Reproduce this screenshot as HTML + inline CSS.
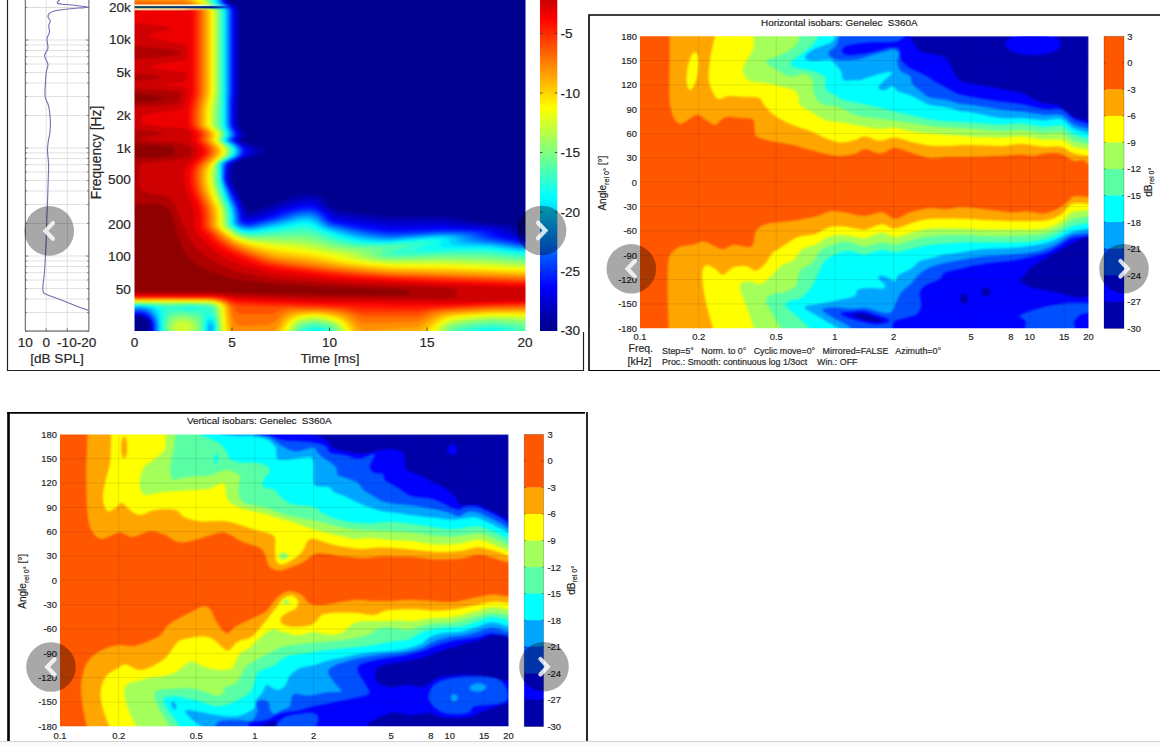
<!DOCTYPE html>
<html><head><meta charset="utf-8"><title>Measurements</title>
<style>
html,body{margin:0;padding:0;background:#fff;}
body{width:1160px;height:745px;overflow:hidden;position:relative;font-family:"Liberation Sans",sans-serif;}
svg{position:absolute;left:0;top:0;display:block;}
text{font-family:"Liberation Sans",sans-serif;fill:#262626;stroke:#262626;stroke-width:0.18px;}
</style></head><body>
<svg width="1160" height="745" viewBox="0 0 1160 745">
<defs>
<linearGradient id="nfade1" x1="0" y1="0" x2="1" y2="0"><stop offset="0" stop-color="#FFEFC8" stop-opacity="0.95"/><stop offset="0.7" stop-color="#F4FFD0" stop-opacity="0.9"/><stop offset="1" stop-color="#80FFFF" stop-opacity="0"/></linearGradient>
<linearGradient id="nfade2" x1="0" y1="0" x2="1" y2="0"><stop offset="0" stop-color="#0A4658"/><stop offset="0.8" stop-color="#00208A"/><stop offset="1" stop-color="#00008F" stop-opacity="0"/></linearGradient>
<linearGradient id="nfade3" x1="0" y1="0" x2="1" y2="0"><stop offset="0" stop-color="#FFE8C0" stop-opacity="0.95"/><stop offset="0.6" stop-color="#FFF0B0" stop-opacity="0.8"/><stop offset="1" stop-color="#FFFF80" stop-opacity="0"/></linearGradient>
<linearGradient id="jetv" x1="0" y1="0" x2="0" y2="1"><stop offset="0.0000" stop-color="#800000"/><stop offset="0.0312" stop-color="#9F0000"/><stop offset="0.0625" stop-color="#BF0000"/><stop offset="0.0938" stop-color="#DF0000"/><stop offset="0.1250" stop-color="#FF0000"/><stop offset="0.1562" stop-color="#FF2000"/><stop offset="0.1875" stop-color="#FF4000"/><stop offset="0.2188" stop-color="#FF6000"/><stop offset="0.2500" stop-color="#FF8000"/><stop offset="0.2812" stop-color="#FF9F00"/><stop offset="0.3125" stop-color="#FFBF00"/><stop offset="0.3438" stop-color="#FFDF00"/><stop offset="0.3750" stop-color="#FFFF00"/><stop offset="0.4062" stop-color="#DFFF20"/><stop offset="0.4375" stop-color="#BFFF40"/><stop offset="0.4688" stop-color="#9FFF60"/><stop offset="0.5000" stop-color="#80FF80"/><stop offset="0.5312" stop-color="#60FF9F"/><stop offset="0.5625" stop-color="#40FFBF"/><stop offset="0.5938" stop-color="#20FFDF"/><stop offset="0.6250" stop-color="#00FFFF"/><stop offset="0.6562" stop-color="#00DFFF"/><stop offset="0.6875" stop-color="#00BFFF"/><stop offset="0.7188" stop-color="#009FFF"/><stop offset="0.7500" stop-color="#0080FF"/><stop offset="0.7812" stop-color="#0060FF"/><stop offset="0.8125" stop-color="#0040FF"/><stop offset="0.8438" stop-color="#0020FF"/><stop offset="0.8750" stop-color="#0000FF"/><stop offset="0.9062" stop-color="#0000DF"/><stop offset="0.9375" stop-color="#0000BF"/><stop offset="0.9688" stop-color="#00009F"/><stop offset="1.0000" stop-color="#00008F"/></linearGradient>
<filter id="b1" x="-5%" y="-5%" width="110%" height="110%" color-interpolation-filters="sRGB"><feGaussianBlur stdDeviation="1.1"/></filter>
<filter id="b2" x="-2%" y="-2%" width="104%" height="104%" color-interpolation-filters="sRGB"><feGaussianBlur stdDeviation="0.8"/></filter>
</defs>
<clipPath id="cpW"><rect x="134.5" y="-5.0" width="391.0" height="336.0"/></clipPath>
<g clip-path="url(#cpW)"><g filter="url(#b1)">
<rect x="132.5" y="-2.0" width="395.0" height="335.0" fill="#00008F"/>
<path fill="#0000AF" d="M128.5 -6 227.6 -6 227.6 -1 228.1 1.5 229.6 2.8 236 5.2 237.6 6.5 238.5 7.8 239.4 10.2 239.6 14 239.6 91.5 238.7 102.8 238.8 124 239.6 126.5 240.4 127.8 242.2 130.3 245.7 134 246 135.2 245.5 136.5 242.5 139 242.1 140.2 243.5 141.5 246.3 142.8 256 145.5 261.9 147.8 263.8 149 264.8 150.2 264.8 151.5 263.5 153.1 259.7 155.2 254.8 156.9 243.5 160 236.5 162.8 234.5 164 233.5 165.6 232.1 172.8 232.4 180.2 233.5 183.3 237.9 191.5 244.1 204 246 209.1 247.2 211 248.5 211.6 252.2 211.3 272.2 205.4 278.6 202.8 285.7 199 291 197.2 297.2 196 306 194.8 311 194.4 314.8 194.5 318.5 195.3 322.2 197.3 323.9 199 327.2 204 331 207.3 336 209.5 342.2 210.9 358.5 213.3 389.8 216.8 398.5 216.9 436 216.3 448.5 217 482.2 222.5 509.8 225 515.4 226.5 521.9 230.2 524.8 231.3 528.5 232.1 532.2 232.4 532.2 337.8 145.2 337.8 148.5 333.9 149.5 331.5 149.9 329 149.9 326.5 149.3 324 148.1 321.5 146 319.1 143.5 317.5 141 316.7 138.5 316.5 136 316.9 133.8 317.8 131.8 319 128.5 322.8ZM128.5 334 128.5 333.2 132.6 337.8 128.5 337.8Z"/>
<path fill="#0000CF" d="M128.5 -6 226.1 -6 226.1 -1 226.5 1.5 227.5 2.8 233.5 5.7 235.8 7.8 236.8 10.2 237 14 237 91.5 236 102.7 236 122.8 236.9 126.5 240.9 132.8 241.4 135.2 240.8 136.5 238.6 139 238.2 140.2 239.4 141.5 244.8 144.6 251 147.2 253.5 148.6 255.1 150.2 255.2 151.5 254.3 152.8 252.6 154 233.4 162.8 231.7 164 230.9 165.2 229.4 171.5 229.1 177.8 229.5 180.2 230.5 182.8 241.4 204 244.8 213.5 246 215.3 247.2 215.8 249.8 215.9 256 214.7 297.2 200.3 306 198.7 312.2 198.6 316 199.5 318.5 200.9 325.9 207.8 332.2 212.2 336 213.8 341 214.9 388.5 221.1 397.2 221.3 438.5 220.7 444.8 221.2 467.2 224.3 496 226.6 502.2 227.6 506 228.6 513.9 232.8 519.8 234.8 526 236 532.2 236.3 532.2 337.8 146.9 337.8 148.9 335.2 150.1 332.8 150.8 330.2 150.9 327.8 150.6 325.2 149.9 322.8 148.5 320.3 147.2 318.8 144.8 317 142.2 315.9 139.8 315.5 137.2 315.6 134.8 316.2 132.2 317.4 128.5 320.8ZM128.5 335.2 130.8 337.8 128.5 337.8Z"/>
<path fill="#0000EF" d="M128.5 -6 224.9 -6 225 0.2 225.3 1.5 226 2.6 227.9 4 232.6 6.5 234.5 9 235 11.5 235.1 14 235.1 90.2 234.1 102.8 234.2 124 235 126.5 238.1 131.5 239.1 134 239.1 135.2 238.5 136.5 236.4 139 236 140.2 237.1 141.5 248.4 149 249.4 150.2 249.5 151.5 248.7 152.8 247.1 154 241.6 157.8 231.3 162.8 229.7 164 229 165.2 227.6 171.5 227.4 177.8 227.8 180.2 228.7 182.8 240 205.2 243.3 216.5 244.8 218.5 246 219 248.5 219.3 254.8 218.4 265.5 215.2 279.8 209.6 296 204.6 303.5 203 309.8 202.6 313.5 203.2 317.2 204.9 322.2 208.2 329.8 214.3 333.5 216.8 336 217.9 341 219 367.2 223.1 389.8 225.7 397.2 225.9 437.2 224.9 457.2 226.6 488.5 228.3 493.6 229 498.4 230.3 506 234.5 512.2 236.5 524.8 239 532.2 239.5 532.2 337.8 148.3 337.8 150 335.2 151.1 332.8 151.9 327.8 150.9 322.8 149.7 320.2 147.5 317.8 145.9 316.5 143.5 315.3 141 314.6 138.5 314.5 136 314.8 133.5 315.6 131 317 128.5 319.2ZM128.5 337.8 128.5 336.9 129.3 337.8Z"/>
<path fill="#0010FF" d="M128.5 -6 223.9 -6 223.9 0.2 224.8 2.5 226.5 4 230.9 6.5 232.9 9 233.4 11.5 233.5 14 233.5 90.2 232.6 102.8 232.7 124 233.4 126.5 236.5 131.5 237.4 134 237.3 135.2 236.8 136.5 234.6 139 234.3 140.2 235.3 141.5 239.4 144 242.5 146.5 244.7 149 245.4 150.2 245.5 151.5 244.2 154 241.7 156.5 238.5 158.5 229.7 162.8 228.2 164 227.5 165.2 226.4 171.5 226.1 177.8 226.5 180.2 227.4 182.8 238.4 205.2 240.7 212.8 241.9 219 242.8 220.2 246 221.7 248.5 221.9 252.2 221.5 270.2 216.5 282.2 211.6 292.2 208.5 301 206.6 309.8 206.1 314.8 207 319.8 209.4 323.5 212.1 329.8 218 333.5 220.3 337.6 221.5 349.8 223.4 364.8 226.4 386 229.2 392.2 229.7 438.5 228.2 481 229.8 486 230.3 490.8 231.5 497.2 235.2 500.6 236.5 505.6 237.8 523.5 241.2 532.2 241.9 532.2 337.8 149.7 337.8 151.2 335.2 152.2 332.8 152.8 327.8 152.3 324 151.4 321.5 150 319 148.5 317.2 146 315.3 143.5 314.2 141 313.6 138.5 313.4 136 313.7 133.5 314.5 131 315.8 128.5 317.7Z"/>
<path fill="#0030FF" d="M128.5 -6 222.8 -6 222.9 0.2 223.1 1.5 223.8 2.8 229.8 6.8 231.6 9 232.1 11.5 232.1 14 232.1 90.2 231.3 102.8 231.4 124 232.1 126.5 235 131.5 235.9 134 235.9 135.2 235.3 136.5 233.2 139 232.8 140.2 233.8 141.5 238.5 144.4 241 146.5 242.8 149 243.2 151.5 242.5 154 240.2 156.5 237.2 158.4 228.2 162.8 226.9 164 226.3 165.2 225.4 171.5 225.2 177.8 225.9 181.5 227.2 184.8 237.5 206.5 239.6 214 240.1 219 241.2 221.5 243.2 222.8 246 223.5 248.5 223.7 252.2 223.3 273.2 217.8 286 212.8 293.5 210.5 302.2 208.9 309.8 208.6 314.8 209.5 318.5 211.1 322.2 213.9 328.7 220.2 332.2 222.2 336 223.3 364.8 228.9 384.8 231.7 392.2 232.3 441 230.2 463.5 230.5 474.8 231.1 479.8 231.8 483.7 232.8 490.8 236.5 495 237.8 521.5 242.8 532.2 243.6 532.2 337.8 151 337.8 153.2 332.8 153.6 330.2 153.6 326.5 153.3 324 152.2 320.9 151 318.6 149.2 316.5 147.2 314.8 144.8 313.5 139.8 312.4 136 312.6 133.5 313.3 128.5 316.2Z"/>
<path fill="#0050FF" d="M128.5 -6 221.7 -6 221.8 0.2 222.8 2.8 226.2 5.2 227.2 6.5 229.3 7.8 230.3 9 230.9 11.5 230.9 14 230.9 90.2 230.3 101.5 230.3 122.8 230.9 126.5 233.7 131.5 234.6 134 234.6 135.2 234 136.5 231.8 139 231.5 140.2 232.4 141.5 237.2 144.5 239.6 146.5 241.3 149 241.7 151.5 241.1 154 238.8 156.5 236 158.3 227.2 162.6 225.7 164 225.3 165.2 224.6 171.5 224.4 177.8 224.7 180.2 226 184 236.3 206.5 238.3 214 238.9 220.2 239.3 221.5 240.3 222.8 242.4 224 246 224.9 249.8 225 253.5 224.6 275.1 219 294.8 212.3 302.2 210.9 309.8 210.7 313.5 211.4 317.2 212.9 321 215.5 327.1 221.5 329.1 222.8 332.1 224 358.5 229.8 366 231.1 384.8 233.8 392.2 234.3 401.8 234 439.8 231.7 454.8 231.7 467.2 232.2 472.4 232.8 476 233.5 484.8 237.5 490.7 239 519.8 244 526 244.7 532.2 245 532.2 337.8 152.3 337.8 153.9 334 154.4 331.5 154.5 325.2 153.1 320.2 151.7 317.8 149.8 315.4 147.2 313.5 144.8 312.3 139.8 311.2 137.2 311.3 133.5 312.1 128.5 314.7ZM214.8 7.5 213.6 7.8 217 7.8 216 7.1Z"/>
<path fill="#0070FF" d="M128.5 -6 220.7 -6 220.7 0.2 221.7 2.8 225 5.2 224.7 6.5 229.2 9 229.8 11.5 229.8 15.2 229.8 91.5 229.3 101.5 229.3 122.8 229.9 126.5 232.5 131.5 233.4 134 233.3 135.2 232.7 136.5 230.6 139 230.2 140.2 231.1 141.5 236 144.6 238.4 146.5 240 149 240.4 151.5 239.8 154 237.6 156.5 233.3 159 227.2 161.9 225.9 162.8 224.7 164 224.4 165.2 223.8 171.5 223.7 177.8 224.3 181.5 225.7 185.2 231.5 199 235.1 206.5 237.1 214 237.8 221.5 238.4 222.8 239.7 224 242.2 225.3 246 226.1 249.8 226.2 253.5 225.8 278.5 219.7 297.2 213.7 303.5 212.8 309.8 212.8 313.5 213.5 317.2 215.2 319.8 217.1 326 222.7 331 225.2 358.5 231.6 367.2 233.2 383.5 235.4 392.2 235.9 406 235.3 438.5 232.9 449.8 232.8 461 233.3 469.8 234.5 472 235.2 478.5 238.5 483.5 239.7 519.8 245.3 532.2 246.3 532.2 337.8 153.6 337.8 155 334 155.4 331.5 155.5 325.2 154.7 321.5 153.7 319 151 315 148.5 312.9 146 311.5 143.5 310.6 139.8 310 137.2 310.1 133.5 310.9 128.5 313.2ZM214.8 6.5 208.1 7.8 219.3 7.8 217.5 6.5Z"/>
<path fill="#008FFF" d="M128.5 -6 219.6 -6 219.9 1.5 220.6 2.8 223.9 5.2 223.5 5.7 221 6.3 210.4 6.5 201.2 7.8 216 8 223.5 7.8 226 8.1 228.1 9 228.7 11.5 228.8 14 228.8 91.5 228.3 101.5 228.3 122.7 228.8 126.5 231.3 131.5 232.1 134 232 135.2 231.5 136.5 229.4 139 229.1 140.2 229.9 141.5 237.1 146.5 238.8 149 239.2 151.5 238.6 154 236.3 156.5 232.1 159 226.8 161.5 224.8 162.8 223.8 164 223.5 165.2 223.1 177.8 223.5 180.9 224.8 184.7 230.5 199 234 206.5 235.9 214 236.4 221.5 236.9 222.8 237.8 224 241 226 244.8 227.1 248.5 227.4 253.5 227 281 220.6 297.2 215.7 302.2 214.9 308.5 214.8 312.2 215.3 316 216.8 318.5 218.5 324.8 223.8 329.8 226.3 357.2 233.1 369 235.2 382.2 237 391 237.4 437.2 234.1 446 233.9 456 234.3 461 234.9 464.8 235.7 466.9 236.5 472.2 239.5 477.2 240.8 496 242.9 521 246.8 532.2 247.4 532.2 337.8 154.9 337.8 156.5 331.5 156.6 327.8 156.3 324 155.5 320.2 154.4 317.8 152.9 315.2 151 313.2 148.5 311.3 146 310.1 141 308.9 134.8 309.2 132.2 309.9 128.5 311.7Z"/>
<path fill="#00AFFF" d="M128.5 -6 218.4 -6 218.7 1.5 219.4 2.8 222.8 5.2 222.2 5.5 219.8 6 205.6 6.5 192.8 7.8 222.2 8.1 224.8 8.3 227 9 227.6 11.5 227.7 14 227.7 91.5 227.3 101.5 227.3 122.8 227.8 126.5 230.1 131.5 230.9 134 230.8 135.2 230.2 136.5 228.2 139 227.9 140.2 228.7 141.5 235.9 146.5 237.6 149 238 151.5 237.4 154 235.1 156.5 225.7 161.5 223.8 162.8 222.9 164 222.6 165.2 222.4 177.8 223 181.5 224.2 185.2 229.4 199 232.9 206.5 234.7 214 235.2 221.5 236 223.7 237.2 225 241 227.2 244.8 228.2 248.5 228.5 253.5 228.2 281 222.2 298.5 217.4 303.5 216.7 308.5 216.8 312.2 217.5 314.8 218.4 317.2 219.9 324.1 225.2 329.8 227.7 356 234.7 368.5 236.9 381 238.4 391 238.8 436 235.2 450.3 235.2 458.8 236.5 461.7 237.8 466 240.7 471 242.1 493.5 244 521 248 532.2 248.6 532.2 337.8 156.4 337.8 157.3 334 157.7 330.2 157.2 322.8 156.3 319 155.3 316.5 152.2 312.4 149.8 310.4 147.2 309.1 142.2 307.9 138.5 307.7 134.8 308 131 308.9 128.5 310Z"/>
<path fill="#00CFFF" d="M128.5 -6 217.2 -6 217.5 1.5 218.2 2.8 221.6 5.2 218.5 5.8 200 6.5 188.5 7.3 128.5 7.5ZM128.5 9 128.5 7.8 201 7.9 222.2 8.3 225.9 9 226.5 11.5 226.6 14 226.3 122.8 226.8 126.5 229.7 134 229.6 135.2 229 136.5 227.1 139 226.8 140.2 227.6 141.5 234.7 146.5 236.4 149 236.8 151.5 236.2 154 233.9 156.5 224.6 161.5 222.9 162.8 222 164 221.8 165.2 221.8 177.8 222.3 181.5 223.8 186.5 228.3 199 231.8 206.5 233.5 214 234.2 222.8 234.7 224 236 225.4 239.8 227.8 243.5 229 247.2 229.5 252.2 229.4 258.5 228.5 282.2 223.5 298.5 219.3 302.2 218.8 307.2 218.7 311 219.3 313.8 220.2 316 221.4 323.1 226.5 328.5 228.9 353.5 235.9 367.2 238.5 379.8 239.8 389.8 240 432.4 236.5 439.8 236.2 446 236.3 449.8 236.8 454 237.8 456.1 239 458.3 241.5 459.8 242.4 464.8 243.6 491 245.1 517.2 248.9 524.8 249.6 532.2 249.8 532.2 337.8 157.9 337.8 158.8 330.2 158.3 321.5 157.4 317.8 156.4 315.2 153.5 311.3 149.8 308.6 147.5 307.8 143.5 307.1 136 307 131 307.6 128.5 308.3ZM209.8 324.7 208.9 326.5 208.7 329 209.8 331.7 211 331.9 212.3 330.2 212.3 326.5 211 324.5Z"/>
<path fill="#00EFFF" d="M128.5 -6 215.7 -6 215.8 -1 216.1 1.5 216.9 2.8 220.4 5.2 211 6.1 187.2 6.8 128.5 6.9ZM128.5 9 128.5 7.8 198.5 7.9 219.8 8.4 224.7 9 225.4 11.5 225.4 14 225.2 122.8 225.7 126.5 228.5 134 228.4 135.2 226 139 225.7 140.2 226.5 141.5 233.5 146.5 235.2 149 235.6 151.5 235 154 232.7 156.5 223.6 161.5 222 162.8 221.1 164 220.9 165.2 221.1 177.8 221.5 181.5 223 186.5 226.8 197.8 230.3 205.2 231 207.8 232.5 215.2 232.9 222.8 233.5 224.2 235.7 226.5 239.8 228.9 243.5 230.1 247.2 230.6 252.2 230.6 258.5 229.8 271 227.2 284.8 224.8 298.5 221.4 303.5 220.8 307.2 220.9 310.9 221.5 313.5 222.5 321.9 227.8 328.5 230.5 349.8 237 357.2 238.7 364.8 239.9 376 241 388.5 241.2 430.5 237.8 442.2 237.6 444.8 237.9 448.5 239 449.8 240.2 450.5 242.8 451.4 244 455.4 245.2 463.5 245.8 488.5 246.3 516 250.2 524.8 250.9 532.2 251.2 532.2 337.8 159.6 337.8 160.1 329 159.3 319 157.8 314 156.4 311.5 154.8 309.6 151.6 307.8 144.8 306.4 136 306.2 128.5 307.2ZM209.8 321.2 208.5 322.2 207.3 325.2 207.1 330.2 207.7 332.8 208.5 334.3 209.8 335.3 211 335.2 212.2 334.2 213.5 331.8 214 329 213.9 326.5 213.5 324.7 212.2 322.2 211 321.2Z"/>
<path fill="#10FFEF" d="M128.5 -6 214.2 -6 214.2 -1 214.6 1.5 215.5 2.8 219.1 5.2 209.8 6 193.5 6.4 128.5 6.5ZM128.5 9 128.5 7.9 196 8 218.5 8.5 223.5 9 224.1 11.5 224.2 14 224.2 91.5 223.9 122.8 224.4 126.5 227.2 134 227.2 135.2 224.9 139 224.7 140.2 225.4 141.5 232.2 146.5 233.9 149 234.3 151.5 233.8 154 231.5 156.5 222.6 161.5 221.1 162.8 220.3 164 220 165.2 220.2 177.8 220.4 180.2 221.3 184 225.2 196.5 226.6 200.2 229.1 205.2 229.8 207.8 231.2 215.2 231.6 222.8 232.2 224.4 234.1 226.5 238.5 229.4 242.2 230.9 247.2 231.8 252.2 231.9 259.8 231.1 271 228.9 284.8 226.8 299.8 223.7 303.5 223.3 307.2 223.5 312.2 224.7 323.5 230.6 339.8 236.3 351 239.4 362.2 241.4 373.5 242.3 387.2 242.4 422.2 239.6 436 239.2 441.4 240.2 442.1 241.5 441.6 242.8 439.5 245.2 439.3 246.5 443.5 247.6 452.2 247.9 486 247.9 517.2 251.9 532.2 252.7 532.2 337.8 497.4 337.8 497.4 332.8 496.6 331.5 493.5 330.8 489.8 330.5 483.4 331.5 482.6 332.8 482.6 337.8 321.3 337.8 321.3 332.8 320.9 331.5 318.5 330.7 316 330.3 313.5 330.6 311.1 331.5 310.7 332.8 310.7 337.8 211.7 337.8 213.5 335.4 214.6 332.8 215 330.2 215 326.5 214.6 324 213.5 321.1 212.2 319.3 211 318.4 209.8 318.1 208.5 318.7 207.2 320.3 206.3 322.8 205.7 326.5 206 332.9 206.7 335.2 208.1 337.8 161.5 337.8 160.7 316.5 159.8 312.2 158 309 155.9 307.8 153.5 307.1 144.8 305.7 137.2 305.5 128.5 306.2Z"/>
<path fill="#30FFCF" d="M128.5 -6 212.7 -6 212.7 -1 213.1 1.5 214 2.8 217.7 5.2 208.5 6 192.2 6.3 128.5 6.4ZM128.5 9 128.5 8 193.5 8 212.2 8.4 222.1 9 222.8 11.5 222.9 14 222.9 92.8 222.4 122.8 222.9 126.5 225.2 131.5 226 134 226 135.2 223.8 139 223.6 140.2 224.3 141.5 229.5 145.2 232 147.8 232.6 149 233 151.5 232.5 154 231.6 155.2 228.4 157.8 221.7 161.5 220.2 162.8 219.4 164 219.1 166.5 219.3 179 220.2 184 223.9 196.5 225.4 200.2 227.8 205.2 228.6 207.8 229.8 214 230.1 221.5 230.6 224 231.3 225.2 233.5 227.4 237.2 229.9 242.2 232.1 247.2 233 252.3 233.2 261 232.5 298.5 227 306 226.8 312.2 228.2 324.8 233.4 338.5 238.5 348.5 241.1 357.6 242.8 368.5 243.6 386 243.7 415.8 241.5 422.2 241.3 427.7 241.5 429.9 242.8 428.4 244 425.8 245.2 416.2 249 415 250.2 418.5 251 426 251.2 463.5 250 483.5 250.1 491 250.6 517.2 253.8 532.2 254.6 532.2 337.8 511.1 337.8 511.1 332.8 510.8 331.5 509.8 331 508.2 330.2 501.7 329 494.8 328.1 489.8 327.9 484.8 328.2 476 329.5 471.9 330.2 468.7 331.5 468.2 332.8 468.2 337.8 328.1 337.8 327.9 331.5 326.2 330.2 322.5 329 316 328 309.8 328.9 306 330.1 304.8 331 304.2 331.5 304 332.8 304 337.8 214.1 337.8 215.9 331.5 216.1 327.8 215.7 324 214.6 320.2 212.2 316.2 209.8 314.2 208.5 314 207.3 314.8 206 317.2 204.7 322.7 204.3 330.2 205.1 337.8 163.7 337.8 162.9 330.2 162.7 324 163.9 309 161.9 307.8 147.7 305.2 138.5 304.8 128.5 305.4ZM182.2 307.7 181.6 307.8 185.9 309 191 309.2 196.9 309 198.3 307.8 189.8 307.1Z"/>
<path fill="#50FFAF" d="M128.5 -6 211.1 -6 211.1 -1 211.5 1.5 212.4 2.8 216.3 5.2 207.2 5.9 191 6.3 128.5 6.3ZM128.5 9 128.5 8 193.5 8.1 211 8.4 220.7 9 221.4 11.5 221.5 14 221.5 90.2 220.5 111.5 220.6 124 221.2 126.5 223.9 131.5 224.8 134 224.7 135.2 222.7 139 222.5 140.2 223.2 141.5 228.2 145.2 230.6 147.8 231.3 149 231.7 151.5 231.1 154 230.3 155.2 227.2 157.8 220.7 161.5 219.4 162.8 218.6 164 218.1 166.5 218.1 179 218.9 184 221.8 194 223.5 199 226.5 205.2 227.3 207.8 228.5 214 228.8 221.5 229.2 224 229.8 225.2 232.3 227.8 236 230.4 239.8 232.4 243.5 233.6 248.5 234.4 258.5 234.4 296 230.8 304.8 230.6 309.8 231.3 314.8 232.6 329.8 238.4 337.2 240.8 344.8 242.8 352.2 244.1 366 245.2 388.5 245.2 404.8 244.7 409.1 245.2 407 246.5 395.4 250.3 393 251.5 392.1 252.8 394 254 396 254.3 402.2 254.6 411 254.4 448.5 252.6 474.8 252.6 488.5 253.1 518.5 256.3 532.2 257 532.2 337.8 520.1 337.8 519.9 331.5 518.4 330.2 513.5 328.3 504.8 326.6 491 325.5 484.8 325.8 473.5 327.2 466 328.6 460.2 330.2 457.9 331.5 457.6 332.8 457.6 337.8 332.5 337.8 332.4 331.5 331 330 328.5 328.6 324.8 327.3 319.8 326.1 316 325.8 312.2 326 308.5 326.7 304.8 327.9 302.2 329.1 300.8 330.3 300 331.5 299.9 337.8 215.6 337.8 216.6 334 217.1 330.2 217 326.5 216.5 322.8 215.5 319 212.9 312.8 211.8 309 210.9 307.8 209.8 307.3 206 306.5 191 305.4 184.8 305.5 168.5 306.6 144.8 304.4 137.2 304.2 128.5 304.7ZM172.1 311.5 178.5 311.1 191 311.8 198.2 312.8 201.1 314 202.2 315.4 203 319 202.8 330.2 202.1 337.8 166.6 337.8 165 332.8 164.4 329 164.4 324 164.9 320.2 166 316.6 167.2 314.4 169.8 312.3Z"/>
<path fill="#70FF8F" d="M128.5 -6 209.6 -6 209.6 -1 210 1.5 210.9 2.8 214.8 5.2 206 5.8 191 6.2 128.5 6.2ZM128.5 9 128.5 8.1 192.3 8.1 219.3 9 219.9 11.5 220 14 220 91.5 218.6 111.5 218.5 122.8 219.4 126.5 222.6 131.5 223.5 134 223.5 135.2 221.6 139 221.4 140.2 222.1 141.5 226.9 145.2 229.3 147.8 229.9 149 230.3 151.5 229.8 154 229 155.2 225.9 157.8 219.8 161.5 217.7 164 216.9 169 216.8 179 217.6 184 220 192.8 222.1 199 224.8 204.3 225.9 207.8 227.2 215.2 227.7 224 229.3 226.5 232.2 229 236 231.7 239.8 233.6 243.5 234.8 248.5 235.7 257.2 236.1 296 234.4 304.8 234.6 313.5 236.1 332.2 242.4 344.6 245.3 357.2 246.7 380.5 247.8 383 249 380.9 252.7 381.2 254 383.5 255.6 386.7 256.5 389.8 256.9 401 257 441 255.2 459.8 255.3 488.5 256.1 519.8 258.9 532.2 259.4 532.2 329.2 527.2 328.6 517.2 325.6 511 324.4 498.5 323.3 488.5 323.1 477.5 324 469.8 325 461 326.7 454.8 328.6 451.6 330.2 450.6 331.5 450.4 337.8 335.6 337.8 335.5 331.5 334.8 330.2 332.2 328.1 329.8 326.6 326 325.2 320.1 324 314.8 323.6 310.1 324 306 324.8 302.2 326.2 300 327.8 297.6 330.2 297 331.5 297 337.8 217 337.8 218.1 330.2 217.9 325.2 217.4 321.5 214.4 309 213.8 307.8 211 306.1 206 305.1 192.2 304.4 167.2 305.1 144.8 303.8 128.5 304ZM176.2 314 182.2 313.6 189.8 314.3 196 315.9 198.8 317.8 200.4 320.2 201 322.6 201.1 329 200.8 331.5 199.8 334.7 197.3 337.8 170.5 337.8 169.8 337 167.8 334 166.5 330.2 166.2 325.2 166.9 321.5 168.5 318.3 170.1 316.5 172.2 315.2Z"/>
<path fill="#8FFF70" d="M128.5 -6 208 -6 208 -1 208.4 1.5 209.3 2.8 213.3 5.2 189.8 6.1 128.5 6.2ZM128.5 9 128.5 8.2 192.2 8.2 217.8 9 218.4 11.5 218.5 14 218.5 91.5 216.6 111.5 216.5 122.8 217 125.2 217.6 126.5 221.2 131.5 222.3 134 222.3 135.2 220.5 139 220.3 140.2 221 141.5 225.6 145.2 228 147.8 228.6 149 228.9 151.5 228.4 154 227.7 155.2 224.7 157.8 218.9 161.5 216.9 164 216.1 166.5 215.5 170.2 215.3 179 216.4 185.2 218.5 192.8 220.7 199 223.8 205.2 224.5 207.8 225.9 215.2 226.3 224 227.7 226.5 231 229.4 236 232.9 239.8 234.8 244.8 236.3 249.8 237.2 259.8 237.8 297.2 237.9 304.8 238.5 311 239.4 316 240.6 329.8 244.7 337.2 246.4 344.8 247.6 362.2 249.3 368.1 250.2 370.2 251.5 371.6 254 373 255.2 375.5 256.5 380 257.8 386 258.6 396 259 436 257.8 457.2 258 488.5 258.8 521 261.4 532.2 261.8 532.2 323.4 526 323.1 509.8 321.4 493.5 320.8 479.4 321.5 467.9 322.8 454.8 325.5 451.6 326.5 449.8 327.7 447.2 330 446.4 331.5 446.3 337.8 338.3 337.8 338.2 331.5 337.6 330.2 334.8 327.2 332.2 325.3 329.6 324 324.8 322.9 318.5 321.9 313.5 321.7 304.6 322.8 301.1 324 299.3 325.2 296 328.9 294.8 331.1 294.5 337.8 218.4 337.8 219.1 331.5 219.1 326.5 216.3 309 215.9 307.8 214.8 306.6 212.2 305.1 207.2 304 197.2 303.7 166 304 142.2 303.2 128.5 303.4ZM178.1 316.5 183.5 316.2 188.5 316.8 192.2 317.9 196 320 198.1 322.8 198.8 325.2 198.7 329 197.1 332.8 195.9 334 193.5 335.6 187.3 337.8 178 337.8 174.8 336.6 172.2 335.1 170 332.8 168.8 330.2 168.3 327.8 168.7 324 169.8 321.4 171.9 319 174.8 317.4Z"/>
<path fill="#AFFF50" d="M128.5 -6 206.4 -6 206.4 -1 206.8 1.5 207.7 2.8 211.8 5.2 189.8 6 128.5 6.1ZM128.5 9 128.5 8.2 191 8.3 216.3 9 216.9 11.5 217 14 217 91.5 216.8 95.2 215.7 101.5 214.7 111.5 214.5 122.8 215 125.2 215.7 126.5 219.8 131.5 221 134 221 135.2 219.3 139 219.2 140.2 219.8 141.5 224.3 145.2 226.6 147.8 227.2 149 227.5 151.5 227.1 154 226.3 155.2 223.4 157.8 218.5 161 216 164 215 166.5 214.2 170.2 213.9 179 214.9 185.2 217 192.8 219.3 199 222.4 205.2 223.1 207.8 224.3 214 224.7 222.8 225.2 225.2 227.2 227.8 230.2 230.2 234.8 233.5 238.5 235.5 242.2 236.9 247.2 238.1 257.2 239.4 294.8 241 307.2 242.3 314.8 243.8 331 247.9 355 251.5 358.9 252.8 365.8 256.5 369.4 257.8 375 259 382.2 260 393.5 260.7 438.5 260 468.5 260.6 488.5 261.2 521 263.6 532.2 263.9 532.2 321 524.8 320.7 508.5 319.4 492.2 319.1 473.8 320.2 462.2 321.7 452.2 323.9 448.8 325.2 446.9 326.5 443.6 330.2 443 331.5 442.9 337.8 340.9 337.8 340.8 331.5 340.3 330.2 337.2 326.7 334.2 324 331 322.7 324.8 321.2 318.5 320.2 313.5 320 307.2 320.7 302.2 321.6 298.9 322.8 297.3 324 292.7 330.2 292.3 331.5 292.2 337.8 219.8 337.8 220.3 331.5 220.2 326.5 218 309 217.7 307.8 216.6 306.5 215.1 305.2 212.5 304 207.2 303.4 194.8 303.1 166 303.3 142.2 302.8 128.5 302.9ZM179.7 319 182.2 318.8 186 319.1 189.8 320.2 192.2 321.5 193.7 322.8 195.3 325.2 195.5 327.8 194.5 330.2 193.5 331.5 191 333.2 188.5 334.3 184.8 335.1 181 335.1 178.5 334.8 176 334 173.9 332.8 172.2 331 171.3 329 171 326.5 171.6 324 172.3 322.8 174.8 320.6 177.2 319.5Z"/>
<path fill="#CFFF30" d="M128.5 -6 204.8 -6 204.8 -1 205.1 1.5 206 2.8 210.1 5.2 188.5 5.9 128.5 6ZM128.5 9 128.5 8.3 191 8.3 214.8 9 215.4 11.5 215.5 14 215.5 91.5 215.2 95.2 213.9 101.5 212.7 111.5 212.6 122.8 213.1 125.2 213.8 126.5 218.3 131.5 219.7 134 219.8 135.2 219.4 136.5 218.2 139 218.1 140.2 218.7 141.5 222.9 145.2 225.2 147.8 225.8 149 226.1 151.5 225.7 154 224.9 155.2 217 161.5 214.4 165.2 213.4 167.8 212.6 171.5 212.4 179 213.4 185.2 215.5 192.8 217.9 199 221 205.2 221.7 207.8 223.1 215.2 223.2 222.7 223.6 225.2 225.4 227.8 229.8 231.3 234.8 234.9 237.9 236.5 242.2 238.1 248.5 239.7 254.8 240.7 267.2 242 294.8 244.1 307.2 245.7 326 249.6 344.9 252.8 349.5 254 359.3 257.8 363.5 258.9 377.2 261.1 393.5 262.3 439.8 262.1 474.7 263 491 263.6 521 265.6 532.2 266 532.2 319 508.5 317.8 489.8 317.6 468.5 319.2 454.7 321.2 448.5 323.1 446 324.4 443.3 326.5 440.3 330.2 439.8 331.5 439.7 337.8 343.5 337.8 343.4 331.5 342.9 330.2 339.8 326.3 337.2 323.8 333.5 321.9 327.2 320.2 318.5 318.7 312.2 318.6 302.2 320 298.5 321.1 295.6 322.8 293.5 325.3 290.4 330.2 290 331.5 289.9 337.8 221.4 337.8 221.5 327.8 219.7 309 219.4 307.8 218.5 306.5 215.2 304 211 303 204.8 302.7 128.5 302.4ZM177.8 322.8 179.8 322.1 182.2 321.8 184.8 322 187.2 322.8 189.2 324 190.3 325.2 190.8 326.5 190.7 327.8 190.1 329 188.9 330.2 186 331.7 182.2 332.2 178.5 331.5 176 330 174.7 327.8 175.1 325.2 176 323.9Z"/>
<path fill="#EFFF10" d="M128.5 -6 202.7 -6 202.7 -1 203.2 1.5 204.2 2.8 208.3 5.2 188.5 5.9 128.5 5.9ZM128.5 9 128.5 8.4 191 8.4 213.2 9 213.8 11.5 213.9 14 213.9 91.5 213.6 95.2 212.1 101.5 210.7 111.5 210.5 122.8 211.1 125.2 211.9 126.5 216.8 131.5 218.3 134 218.4 135.2 216.9 139 216.8 140.2 217.4 141.5 223.7 147.8 224.3 149 224.7 151.5 224.2 154 223.5 155.2 216 161.5 214 164 212.6 166.5 211.1 171.5 210.9 179 211.8 185.2 213.9 192.8 216.4 199 219.5 205.2 220.3 207.8 221.6 215.2 222 225.2 223.5 227.8 228.5 231.9 233.5 235.5 237.2 237.5 243.5 239.8 249.8 241.4 269.8 244.5 294.8 247.1 308.5 249.2 335.2 254 353.5 259.2 359.8 260.5 369.8 261.9 391 263.8 447.2 264.3 486 265.6 519.8 267.6 532.2 268 532.2 317 508.5 316.2 489.8 316.1 467.2 317.8 452.2 319.8 446 322.1 442.9 324 440 326.5 437 330.2 436.4 331.5 436.3 337.8 346.1 337.8 346 331.5 345.5 330.2 341.7 325.2 338.5 322.5 333.5 320.2 327.2 318.6 318.5 317.1 312.2 317.1 304.8 318 299.8 319 296 320.5 293.5 322.2 291.8 324 288.1 330.2 287.7 331.5 287.6 337.8 223.1 337.8 223.1 329 221.4 309 221.1 307.8 220.3 306.5 217.2 303.9 212.2 302.5 206 302.1 128.5 301.8Z"/>
<path fill="#FFEF00" d="M128.5 -6 199.8 -6 199.8 -1 200.6 1.5 202 2.8 206.4 5.2 188.5 5.8 128.5 5.8ZM128.5 9 128.5 8.4 189.8 8.5 211.4 9 212.1 11.5 212.2 14 212.2 91.5 211.8 95.2 210.1 101.5 208.7 111.5 208.5 122.8 209 125.2 209.8 126.5 216.1 132.8 216.8 135.2 215.5 139 215.4 140.2 217.1 142.8 219.9 145.2 222.1 147.8 222.7 149 223 151.5 222.6 154 221.8 155.2 214.8 161.5 211.1 166.5 210.1 169 209.3 172.8 209.3 180.2 210.4 186.5 212.2 192.8 214.2 197.8 217.3 204 218.6 207.8 219.8 214 220.1 224 220.7 226.5 222.8 229 228.5 233.6 233.5 237 238.5 239.4 246 242 252.2 243.6 272.2 247.4 298.5 250.8 319.8 254.2 329.8 256.2 345.5 260.2 361.1 262.8 391 265.6 444.8 266.3 532.2 270 532.2 315 508.5 314.6 489.8 314.7 464.7 316.5 451 318.2 447.2 319.2 443.5 321 439.8 323.5 436.5 326.5 433.2 330.2 432.5 331.5 432.4 337.8 348.8 337.8 348.8 331.5 348.3 330.2 343.6 324 340.3 321.5 334.8 319 327.2 317 318.5 315.6 312.2 315.5 304.8 316.4 299.8 317.4 295.2 319 291.4 321.5 289.2 324 285.6 330.2 285.2 331.5 285.2 337.8 224.9 337.8 224.9 330.2 222.8 307.8 221 305.2 219.5 304 217.2 303.1 212.2 301.9 206 301.4 128.5 301.3Z"/>
<path fill="#FFCF00" d="M128.5 -6 196 -6 196 -1 196.2 0.2 196.9 1.5 198.9 2.8 204.4 5.2 187.2 5.7 128.5 5.7ZM128.5 9 128.5 8.5 189.8 8.5 209.5 9 210.1 11.5 210.2 14 210.2 91.5 209.8 95.2 208 101.5 206.5 111.5 206.3 122.8 206.9 125.2 207.7 126.5 213.1 131.5 214.8 134 215 135.2 213.8 139 213.7 140.2 215.4 142.8 220.2 147.8 220.8 149 221.1 151.5 220.6 154 219.9 155.2 212.2 162.8 210.1 165.2 208.7 167.8 207.3 172.8 207.3 180.2 208.4 186.5 210.2 192.8 212.8 199 215.9 205.2 216.7 207.8 218 215.2 218.2 224 218.8 226.5 221 229.3 227.2 234.4 233.5 238.6 242.2 242.4 252.2 245.6 267.2 249.1 277.2 251.1 314.8 256.3 338 261.5 352.2 263.7 391 267.5 443.5 268.4 532.2 272 532.2 313.2 507.2 313 488.5 313.3 459.8 315.3 448.5 316.8 443.5 318.4 439.8 320.5 435.1 324 428.4 330.3 427.7 331.5 427.5 337.8 351.8 337.8 351.8 331.5 351.3 330.2 346.7 324 344 321.5 341 319.6 334.8 317.1 326.6 315.2 317.2 314.1 309.8 314.3 302.2 315.1 297.2 316.3 293.5 317.8 289.7 320.2 286.4 324 282.9 330.2 282.5 331.5 282.5 337.8 227 337.8 226.8 330.2 224.5 307.8 222.9 305.2 221.5 304 218.7 302.8 212.2 301.2 206 300.7 128.5 300.6Z"/>
<path fill="#FFAF00" d="M128.5 -6 192 -6 192.1 -1 192.3 0.2 193.1 1.5 195.3 2.8 202.2 5.2 187.2 5.6 128.5 5.7ZM128.5 9 128.5 8.5 189.8 8.6 207.3 9 207.9 11.5 208 14 208 91.5 207.6 95.2 205.8 101.5 204.3 111.5 204.1 122.8 204.7 125.2 205.5 126.5 210.9 131.5 212.7 134 212.9 135.2 211.7 139 211.7 140.2 212.3 141.5 218.1 147.8 218.6 149 218.9 151.5 218.5 154 217.8 155.2 209.1 164 206.5 167.8 205.2 172.8 205.1 180.2 206.2 186.5 208 192.8 210.6 199 213.2 204 214.5 207.8 215.9 215.2 216 224 216.6 226.5 219.8 230.2 227.2 236.3 234.8 240.9 243.5 244.8 252.2 247.7 271 252.9 278.5 254.4 311 258.8 330.4 262.8 344.8 264.9 374.8 268.1 391 269.4 443.5 270.6 532.3 274 532.2 311.5 487.2 311.9 456 314 446 315.4 441 317 437 319 431.7 322.8 422.3 330.2 421.3 331.5 421.1 337.8 355.5 337.8 355.4 331.5 354.1 329 348.5 322.1 346 320 342.2 317.8 335.1 315.2 324.8 313.4 314.8 312.7 304.8 313.2 299.8 313.7 294.8 315 291 316.6 287.2 319.2 284.1 322.8 279.8 330.2 279.4 331.5 279.4 337.8 229.3 337.8 229.2 330.2 226.3 307.8 224.8 305.2 223.4 304 219.8 302.3 213.5 300.6 207.2 300.1 128.5 300Z"/>
<path fill="#FF8F00" d="M128.5 -6 186.5 -6 186.6 -1 187.3 0.2 188.8 1.5 191.6 2.8 199.5 5.2 187.2 5.5 128.5 5.6ZM128.5 9 128.5 8.6 188.5 8.6 205 9 205.7 11.5 205.7 14 205.7 91.5 205.4 95.2 203.6 101.5 202 111.5 201.8 122.8 202.4 125.2 203.2 126.5 208.7 131.5 210.4 134 210.6 135.2 209.4 139 209.4 140.2 210.1 141.5 213.8 145.2 215.8 147.8 216.3 149 216.7 151.5 216.2 154 215.6 155.2 206.8 164 204.3 167.8 202.9 172.8 202.9 180.2 203.9 186.5 205.7 192.8 208.4 199 211 204.1 212.3 207.8 213.6 215.2 213.8 224 214.3 226.5 217.4 230.2 226 237.5 233.5 242.2 243.5 246.8 251 249.6 271 255.9 277.2 257.2 309.8 261.8 336 266 364.8 269.2 391 271.4 444.8 272.9 532.2 275.9 532.2 309.8 488.5 310.5 448.5 313 441 314.3 436 316.1 430.8 319 421 325.5 416 327.4 378.5 329.8 366 331 363.5 330.7 359.8 329 349.5 319 344.8 316.1 339.8 314.3 331 312.7 319.8 311.6 311 311.4 299.8 311.9 294.8 312.7 290.2 314 287.2 315.5 283.5 318.6 280.2 322.8 275.4 330.2 274.9 331.5 274.8 337.8 232.7 337.8 232.6 331.5 230.3 321.5 228.2 307.8 227.7 306.5 225.5 304 221 301.8 214.8 300 207.2 299.3 128.5 299.3Z"/>
<path fill="#FF7000" d="M128.5 2.8 128.5 1.6 132.2 1.6 151 1.7 184.8 2.8 189.8 3.4 196.6 5.2 128.5 5.5ZM128.5 9 128.5 8.7 188.5 8.7 202.7 9 203.3 11.5 203.4 14 203.4 91.5 203 95.2 201.2 101.5 199.6 111.5 199.4 122.8 200 125.2 200.8 126.5 206.3 131.5 208 134 208.3 135.2 207.1 139 207.1 140.2 207.7 141.5 211.4 145.2 213.4 147.8 214 149 214.3 151.5 213.9 154 213.2 155.2 204.4 164 201.9 167.8 200.5 172.8 200.5 180.2 201.6 186.5 203.4 192.8 205.4 197.8 208.6 204 209.9 207.8 211.2 215.2 211.4 224 211.9 226.5 215 230.2 224.8 238.8 232.2 243.6 242.2 248.4 249.8 251.4 269.8 258.3 277.2 259.8 332.2 267.7 362.2 271 389.8 273.2 532.2 277.9 532.2 308.1 488.5 309.1 448.5 311.3 439.8 312.3 434.8 313.3 431 314.8 421 320 416 321.5 411 321.9 367.2 322.9 363.5 322.7 361 322.2 358.5 320.9 354 317.8 348.5 314.6 344.8 313.3 339.8 312.2 331 311 318.5 310.1 296.5 310.2 289.8 311.1 284.8 312.8 281.3 315.2 274.8 321.9 271 324.1 266 324.9 241 326.1 238.5 325.8 237.2 325.2 236 324.2 234.8 322.5 233.5 319.8 232.2 315.8 230.5 307.8 228.9 305.2 227.6 304 224.8 302.3 221 300.8 217.2 299.7 212.2 298.9 206 298.7 128.5 298.7Z"/>
<path fill="#FF5000" d="M128.5 4 128.5 3.2 183.5 3.9 188.5 4.2 193.5 5.2 128.5 5.4ZM128.5 9 128.5 8.7 200.2 9 200.8 11.5 200.9 14 200.9 91.5 200.5 95.2 198.7 101.5 197.1 111.5 196.9 122.8 197.5 125.2 198.3 126.5 203.8 131.5 205.5 134 205.7 135.2 204.6 139 204.6 140.2 205.2 141.5 208.9 145.2 210.9 147.8 211.5 149 211.8 151.5 211.4 154 210.7 155.2 201.9 164 199.4 167.8 198 172.8 198 180.2 199.1 186.5 200.9 192.8 202.9 197.8 206.1 204 207.4 207.8 208.7 215.2 208.9 224 209.4 226.5 210.1 227.8 212.4 230.2 219.8 237.3 223.4 240.3 231 245.2 239.8 249.5 248.5 253.2 268.5 260.4 274.8 261.7 297.2 265.2 329.8 269.4 359.8 272.6 389.8 274.9 532.2 279.7 532.2 306.5 489.8 307.5 443.5 310 432.1 311.5 427.6 312.8 421 315.5 414.8 316.5 366 316.5 359.8 315.9 349.8 312.2 342.2 310.5 331 309.2 314.8 308.4 292.2 308.3 284.8 308.7 281 309.5 273.5 313.2 269.8 314 241 313.8 238.5 313.2 237.2 312.5 236 311.3 233.2 306.5 228.1 302.8 222.2 300.1 216 298.7 206 298.1 128.5 298.1Z"/>
<path fill="#FF3000" d="M128.5 5.2 128.5 4.3 184.8 4.8 189.9 5.2ZM128.5 9 197.5 9 198 10.2 198.2 14 198.2 91.5 197.9 95.2 196.1 101.5 194.5 111.5 194.3 122.8 194.9 125.2 195.7 126.5 201.2 131.5 202.9 134 203.1 135.2 202 139 202 140.2 202.6 141.5 206.3 145.2 208.3 147.8 208.9 149 209.2 151.5 208.8 154 208.1 155.2 199.3 164 196.8 167.8 195.4 172.8 195.4 180.2 196.5 186.5 198.3 192.8 200.9 199 203.5 204 204.8 207.8 206.1 215.2 206.3 224 206.7 226.5 208.3 229 217.2 238 221.4 241.5 228.9 246.5 237.2 250.7 246 254.4 266 262 273.5 263.6 289.8 266.2 331 271.6 358.5 274.4 389.8 276.6 532.2 281.5 532.2 305 489.8 306 441 308.5 431 309.5 419.8 312 414.8 312.6 366 312.4 359.8 311.9 346 308.8 331 307.4 289.8 306.3 271 306.8 239.8 305.4 234.8 304.4 226 300.2 222.3 299 213.5 297.7 128.5 297.5Z"/>
<path fill="#FF1000" d="M128.5 9 192.2 8.9 194.8 9 195.3 10.2 195.6 14 195.5 92.8 195.2 95.2 193.4 101.5 191.8 111.5 191.6 122.8 192.2 125.2 192.9 126.5 198.5 131.5 200.2 134 200.4 135.2 199.2 139 199.2 140.2 199.8 141.5 205.6 147.8 206.2 149 206.5 151.5 206.1 154 205.4 155.2 196.6 164 194.1 167.8 192.7 172.8 192.7 180.2 193.8 186.5 195.6 192.8 198.2 199 201 204.4 202.1 207.8 203.4 215.2 203.6 225.2 204.2 227.7 206 230.1 210.2 234 214.8 239.2 219.8 243.3 227.2 248.4 234.8 252.2 258.5 262 263.5 263.7 271 265.4 283.5 267.5 329.8 273.6 354.8 276 389.8 278.3 442.2 280.4 532.2 283.3 532.2 303.5 491 304.5 436 306.9 416 308.7 367.2 308.3 361 308.1 347.6 306.5 334.8 305.7 287.2 304.2 272.2 304.2 239.8 302.8 234.8 302 226.4 299 223.5 298.3 213.5 297.1 128.5 296.9Z"/>
<path fill="#EF0000" d="M128.5 9 191.4 9 192 10.2 192.3 12.8 192.4 27.8 192.3 92.8 192 95.2 190.2 101.5 188.8 110.2 188.3 115.2 188.4 122.8 188.9 125.2 189.6 126.5 195.1 131.5 197 134 197.2 135.2 196 139 196 140.2 196.5 141.5 202.3 147.8 202.9 149 203.3 151.5 202.8 154 202.1 155.2 193.3 164 190.9 167.8 189.5 172.8 189.7 181.5 190.6 186.5 192.8 194 198.1 205.2 198.9 207.8 200.2 215.2 200.4 226.5 201 229 202.2 230.8 206.8 235.2 212.2 241.5 221 248.4 224.8 250.7 234.8 255.7 254.8 264 261 266 279.8 269.8 305.2 272.8 328.5 276 357.2 278.4 402.2 280.8 441 282.4 532.2 285.3 532.2 302 488.5 303 448.5 304.7 408.5 304.9 308.5 303.1 243.5 300.5 236 300 226.4 297.8 222.2 297.1 209.8 296.3 128.5 296.2Z"/>
<path fill="#CF0000" d="M128.5 9 137.3 9 140.1 10.2 139.3 11.5 136 13 132.2 13.7 128.5 13.8ZM128.5 22.8 128.5 22.4 132.2 22.4 138.5 23 164.8 26.5 169.9 27.8 170.5 29 166.9 30.2 150.9 34 148.9 35.2 149.9 36.5 157.6 39 169.8 41.9 184.8 44.4 186 45.4 186.6 46.5 187.2 50.2 187.1 56.5 186.4 59 184.8 60.5 167.2 63 156.3 65.2 152.7 66.5 152.7 67.8 157.2 69 166 70.3 183.5 72 184.8 72.3 186 73.1 186.9 75.2 187.1 77.8 186.6 80.2 185.7 81.5 183.5 82.4 167.8 84 166.5 85.2 183.5 87.1 186 88.2 187 90.2 187.1 94 183.5 107.3 182.2 108.7 181 109.3 157.3 112.8 145.9 115.2 143.1 116.5 142 117.8 141.6 120.2 141.9 121.5 143 122.8 146.3 124 152.9 125.2 163.3 126.5 184.8 128.5 188.3 130.2 191 132.8 191.7 134 191.8 135.2 190.2 139 190.5 140.2 197.3 147.8 198.1 150.2 198.1 152.8 197.1 155.2 196 156.5 187.6 164 186.6 165.2 185.3 167.8 184.2 171.5 183.9 175.2 184 180.2 185 186.5 187 192.8 192.8 206.5 194.2 215.2 194.5 226.5 195.2 230.2 197.2 233.4 205.5 242.8 213.5 249.8 218.5 253.6 224.8 257.4 231 260.6 237.2 263.2 244.8 265.9 266 271.8 273.5 273.3 282.2 274.3 328.5 279.2 356 281 437.2 284.7 532.2 287.6 532.2 300.1 446 301.9 321 300.8 239.8 298 219.8 295.7 209.8 295.1 128.5 295Z"/>
<path fill="#AF0000" d="M128.5 46.5 128.5 45.9 134.8 46 169.8 49.2 177.2 50.7 179.2 51.5 180 52.8 179.4 54 177.2 54.9 169.8 56.3 134.8 59.2 128.5 59.3ZM128.5 74 128.5 73.5 134.8 73.6 149.8 75.2 158 76.5 160.5 77.8 155.5 79 144 80.2 134.8 81 128.5 81.1ZM128.5 89 128.5 88.1 134.8 88.2 169.8 90.5 178.5 92.2 179.8 92.8 180.6 94 180.7 95.2 179.8 99 178.7 101.5 177.1 102.8 174.8 103.5 168.5 104.4 136 107 128.5 107.3ZM128.5 130.2 128.5 129.4 136 129.6 155.1 131.5 162 132.8 162.4 134 157.3 135.2 141.9 137.8 139.1 139 144.4 140.2 169.8 142.2 183.1 144 188 145.2 189.8 146.4 191 147.8 191.8 150.2 191.8 152.8 191.4 154 189.8 156 187.2 157.4 181 158.8 171 160.4 147.7 162.8 142 164 139.8 165.2 139.1 166.5 139 167.8 139 185.2 139.3 187.8 140.1 189 141.6 190.2 147.2 192.8 152.2 194 159.8 194.9 163.5 195.7 167.2 197.2 169.8 199 173.5 203.4 176 207.6 181 220.7 186 232.1 188.9 237.8 192.2 242.8 197.2 248.3 204 254 212.2 259.9 219.8 264.2 230.2 269 239.8 272.2 263.5 277.3 274.8 279 328.5 282.9 446.4 287.8 452.2 288.4 455.8 289 456.2 290.2 456.2 296.5 455.8 297.8 446 298.6 429.8 298.7 317.2 298 237.2 295.5 211 293.6 128.5 293.5Z"/>
<path fill="#8F0000" d="M128.5 52.8 128.5 52.3 135.4 52.8 132.2 53.3 128.5 53.3ZM128.5 92.8 136 93 152.1 95.2 162.6 97.8 163.2 99 158 100.2 146.2 101.5 134.8 102.3 128.5 102.4ZM128.5 144 128.5 143.7 138.5 143.9 160 145.2 169.8 146.2 171 146.5 173.5 147.9 174.3 149 174.5 150.2 174.4 152.8 173.8 154 172.2 155.2 167.2 156.4 137.2 158.6 128.5 158.8ZM128.5 205.2 128.5 204.4 156 204.5 162.2 205.4 166 207.2 169.1 210.2 171.3 214 176.4 231.5 179.7 241.5 183.5 250.4 187.3 256.5 189.8 259.2 193.5 262.3 202.2 267.6 211 271.7 223.5 276.1 231 278.2 238.5 279.7 273.5 283.8 316 286.3 401 289.2 408.7 290.2 409.4 291.5 409.4 294 407 295.2 403.5 295.5 318.5 294.7 236 292.7 211 291.5 128.5 291.5Z"/>
</g>
<rect x="134" y="4.4" width="96" height="1.9" fill="url(#nfade1)"/>
<rect x="134" y="6.2" width="98" height="2.1" fill="url(#nfade2)"/>
<rect x="134" y="8.3" width="80" height="2.0" fill="url(#nfade3)"/>
</g>
<path d="M7.5 -1 V370.5 H583.5 V332" fill="none" stroke="#222" stroke-width="1.2"/>
<g stroke="#d9d9d9" stroke-width="0.8" fill="none">
<path d="M25.3 331.5 H88.9"/>
<path d="M25.3 312.5 H88.9"/>
<path d="M25.3 299.0 H88.9"/>
<path d="M25.3 288.5 H88.9"/>
<path d="M25.3 280.0 H88.9"/>
<path d="M25.3 272.7 H88.9"/>
<path d="M25.3 266.5 H88.9"/>
<path d="M25.3 260.9 H88.9"/>
<path d="M25.3 256.0 H88.9"/>
<path d="M25.3 223.5 H88.9"/>
<path d="M25.3 204.5 H88.9"/>
<path d="M25.3 191.0 H88.9"/>
<path d="M25.3 180.5 H88.9"/>
<path d="M25.3 172.0 H88.9"/>
<path d="M25.3 164.7 H88.9"/>
<path d="M25.3 158.5 H88.9"/>
<path d="M25.3 152.9 H88.9"/>
<path d="M25.3 148.0 H88.9"/>
<path d="M25.3 115.5 H88.9"/>
<path d="M25.3 96.5 H88.9"/>
<path d="M25.3 83.0 H88.9"/>
<path d="M25.3 72.5 H88.9"/>
<path d="M25.3 64.0 H88.9"/>
<path d="M25.3 56.7 H88.9"/>
<path d="M25.3 50.5 H88.9"/>
<path d="M25.3 44.9 H88.9"/>
<path d="M25.3 40.0 H88.9"/>
<path d="M25.3 7.5 H88.9"/>
<path d="M25.3 7.5 H88.9"/>
<path d="M46.2 -1 V331.0 M67.3 -1 V331.0"/>
</g>
<g stroke="#666" stroke-width="0.8" fill="none">
<path d="M25.3 331.5 h1.8 M88.9 331.5 h-1.8"/>
<path d="M25.3 312.5 h1.8 M88.9 312.5 h-1.8"/>
<path d="M25.3 299.0 h1.8 M88.9 299.0 h-1.8"/>
<path d="M25.3 288.5 h1.8 M88.9 288.5 h-1.8"/>
<path d="M25.3 280.0 h1.8 M88.9 280.0 h-1.8"/>
<path d="M25.3 272.7 h1.8 M88.9 272.7 h-1.8"/>
<path d="M25.3 266.5 h1.8 M88.9 266.5 h-1.8"/>
<path d="M25.3 260.9 h1.8 M88.9 260.9 h-1.8"/>
<path d="M25.3 256.0 h3.0 M88.9 256.0 h-3.0"/>
<path d="M25.3 223.5 h1.8 M88.9 223.5 h-1.8"/>
<path d="M25.3 204.5 h1.8 M88.9 204.5 h-1.8"/>
<path d="M25.3 191.0 h1.8 M88.9 191.0 h-1.8"/>
<path d="M25.3 180.5 h1.8 M88.9 180.5 h-1.8"/>
<path d="M25.3 172.0 h1.8 M88.9 172.0 h-1.8"/>
<path d="M25.3 164.7 h1.8 M88.9 164.7 h-1.8"/>
<path d="M25.3 158.5 h1.8 M88.9 158.5 h-1.8"/>
<path d="M25.3 152.9 h1.8 M88.9 152.9 h-1.8"/>
<path d="M25.3 148.0 h3.0 M88.9 148.0 h-3.0"/>
<path d="M25.3 115.5 h1.8 M88.9 115.5 h-1.8"/>
<path d="M25.3 96.5 h1.8 M88.9 96.5 h-1.8"/>
<path d="M25.3 83.0 h1.8 M88.9 83.0 h-1.8"/>
<path d="M25.3 72.5 h1.8 M88.9 72.5 h-1.8"/>
<path d="M25.3 64.0 h1.8 M88.9 64.0 h-1.8"/>
<path d="M25.3 56.7 h1.8 M88.9 56.7 h-1.8"/>
<path d="M25.3 50.5 h1.8 M88.9 50.5 h-1.8"/>
<path d="M25.3 44.9 h1.8 M88.9 44.9 h-1.8"/>
<path d="M25.3 40.0 h3.0 M88.9 40.0 h-3.0"/>
<path d="M25.3 7.5 h1.8 M88.9 7.5 h-1.8"/>
<path d="M46.2 331.0 v-3 M67.3 331.0 v-3"/>
</g>
<path d="M25.3 -1 V331.0 H88.9 V-1" fill="none" stroke="#555" stroke-width="1"/>
<path d="M62.0 -2.0 C61.2 -1.1 55.8 2.0 57.5 3.2 C59.2 4.4 67.0 4.3 72.0 5.0 C77.0 5.7 87.6 6.6 87.3 7.2 C87.0 7.8 75.6 8.1 70.0 8.8 C64.4 9.5 57.2 10.1 53.5 11.3 C49.8 12.5 48.4 14.4 47.9 16.0 C47.4 17.6 50.2 19.4 50.3 21.0 C50.4 22.6 48.8 23.9 48.7 25.8 C48.6 27.7 49.8 30.1 49.5 32.2 C49.2 34.4 47.3 36.0 47.0 38.7 C46.7 41.4 48.3 45.5 47.9 48.3 C47.5 51.1 44.6 52.9 44.6 55.6 C44.6 58.3 47.6 61.6 47.9 64.4 C48.2 67.2 46.6 69.3 46.2 72.5 C45.8 75.7 45.6 79.8 45.4 83.8 C45.2 87.8 44.5 92.8 45.1 96.6 C45.7 100.3 47.8 102.4 48.7 106.3 C49.6 110.2 50.1 115.7 50.3 120.0 C50.5 124.3 50.3 128.7 50.0 132.0 C49.7 135.3 48.9 137.0 48.5 140.0 C48.1 143.0 47.5 145.8 47.5 150.0 C47.5 154.2 48.5 160.0 48.6 165.0 C48.7 170.0 48.4 174.2 48.2 180.0 C48.0 185.8 47.8 193.3 47.6 200.0 C47.4 206.7 47.0 213.3 46.8 220.0 C46.6 226.7 46.5 233.3 46.2 240.0 C45.9 246.7 45.5 254.2 45.2 260.0 C44.9 265.8 44.6 270.8 44.2 275.0 C43.8 279.2 43.2 282.4 43.0 285.0 C42.8 287.6 42.7 289.0 43.0 290.5 C43.3 292.0 42.2 292.3 45.0 293.8 C47.8 295.3 55.0 297.6 60.0 299.5 C65.0 301.4 70.2 303.6 75.0 305.5 C79.8 307.4 86.5 309.8 88.8 310.7" fill="none" stroke="#6f6fb5" stroke-width="1.1"/>
<text x="130.8" y="11.7" font-size="13.6" text-anchor="end">20k</text>
<text x="130.8" y="43.9" font-size="13.6" text-anchor="end">10k</text>
<text x="130.8" y="77.4" font-size="13.6" text-anchor="end">5k</text>
<text x="130.8" y="120.4" font-size="13.6" text-anchor="end">2k</text>
<text x="130.8" y="152.9" font-size="13.6" text-anchor="end">1k</text>
<text x="130.8" y="184.4" font-size="13.6" text-anchor="end">500</text>
<text x="130.8" y="228.9" font-size="13.6" text-anchor="end">200</text>
<text x="130.8" y="261.4" font-size="13.6" text-anchor="end">100</text>
<text x="130.8" y="293.9" font-size="13.6" text-anchor="end">50</text>
<text font-size="13.8" text-anchor="middle" transform="translate(101 152.5) rotate(-90)">Frequency [Hz]</text>
<text x="134.5" y="346.9" font-size="13.6" text-anchor="middle">0</text>
<text x="232.0" y="346.9" font-size="13.6" text-anchor="middle">5</text>
<text x="329.5" y="346.9" font-size="13.6" text-anchor="middle">10</text>
<text x="427.0" y="346.9" font-size="13.6" text-anchor="middle">15</text>
<text x="525.0" y="346.9" font-size="13.6" text-anchor="middle">20</text>
<text x="330.0" y="362.9" font-size="13.6" text-anchor="middle">Time [ms]</text>
<text x="25.3" y="346.9" font-size="13.6" text-anchor="middle">10</text>
<text x="46.2" y="346.9" font-size="13.6" text-anchor="middle">0</text>
<text x="66.9" y="346.9" font-size="13.6" text-anchor="middle">-10</text>
<text x="86.5" y="346.9" font-size="13.6" text-anchor="middle">-20</text>
<text x="57.0" y="362.9" font-size="13.6" text-anchor="middle">[dB SPL]</text>
<g stroke="#222" stroke-width="0.8">
<path d="M232.0 331 v-3.5"/>
<path d="M329.5 331 v-3.5"/>
<path d="M427.0 331 v-3.5"/>
</g>
<rect x="540" y="-26" width="17.3" height="357" fill="url(#jetv)"/>
<g stroke="#333" stroke-width="0.8">
<path d="M540 33.5 h2.5 M557.3 33.5 h-2.5"/>
<path d="M540 93.0 h2.5 M557.3 93.0 h-2.5"/>
<path d="M540 152.5 h2.5 M557.3 152.5 h-2.5"/>
<path d="M540 212.0 h2.5 M557.3 212.0 h-2.5"/>
<path d="M540 271.5 h2.5 M557.3 271.5 h-2.5"/>
</g>
<text x="560.5" y="38.4" font-size="13.6" text-anchor="start">-5</text>
<text x="560.5" y="97.9" font-size="13.6" text-anchor="start">-10</text>
<text x="560.5" y="157.4" font-size="13.6" text-anchor="start">-15</text>
<text x="560.5" y="216.9" font-size="13.6" text-anchor="start">-20</text>
<text x="560.5" y="276.4" font-size="13.6" text-anchor="start">-25</text>
<text x="560.5" y="335.4" font-size="13.6" text-anchor="start">-30</text>
<circle cx="49.3" cy="230.9" r="24.8" fill="#000" fill-opacity="0.34"/>
<path d="M52.9 223.1 L45.5 230.9 L52.9 238.7" fill="none" stroke="#fff" stroke-opacity="0.82" stroke-width="4.2" stroke-linecap="round" stroke-linejoin="miter"/>
<circle cx="541.6" cy="230.5" r="24.8" fill="#000" fill-opacity="0.34"/>
<path d="M538.0 222.7 L545.4 230.5 L538.0 238.3" fill="none" stroke="#fff" stroke-opacity="0.82" stroke-width="4.2" stroke-linecap="round" stroke-linejoin="miter"/><path d="M589 371 V15 H1161" fill="none" stroke="#000" stroke-width="1.6"/>
<path d="M589 370.5 H1161" fill="none" stroke="#000" stroke-width="1.2"/>
<clipPath id="cpH"><rect x="640.0" y="36.3" width="448.5" height="291.9"/></clipPath>
<g clip-path="url(#cpH)"><g filter="url(#b2)">
<rect x="639.0" y="35.3" width="450.5" height="293.9" fill="#0000AA"/>
<path d="M638.0 34.3 L909.0 34.3 L909.0 36.3 C910.2 37.9 913.8 43.3 916.0 46.0 C918.2 48.7 918.7 50.9 922.0 52.3 C925.3 53.7 931.8 53.4 936.0 54.5 C940.2 55.6 944.5 56.6 947.0 58.8 C949.5 60.9 949.1 63.8 951.3 67.4 C953.5 71.0 955.3 77.4 960.0 80.3 C964.7 83.2 972.5 83.2 979.3 84.7 C986.1 86.2 993.8 87.6 1001.0 89.0 C1008.2 90.4 1015.9 91.1 1022.4 93.3 C1028.8 95.5 1033.9 100.0 1039.7 101.9 C1045.5 103.9 1052.7 103.6 1057.0 105.0 C1061.3 106.4 1062.7 108.5 1065.5 110.5 C1068.3 112.5 1070.2 115.2 1074.0 117.0 C1077.8 118.8 1086.1 120.6 1088.5 121.3 L1090.5 121.3 L1090.5 330.2 L638.0 330.2 Z" fill="#0000FF"/>
<path d="M638.0 34.3 L905.0 34.3 L905.0 36.3 C903.3 37.2 900.8 41.0 895.0 42.0 C889.2 43.0 877.5 42.0 870.0 42.5 C862.5 43.0 854.7 43.8 850.0 45.0 C845.3 46.2 842.3 48.3 842.0 50.0 C841.7 51.7 843.3 54.6 848.0 55.0 C852.7 55.4 862.8 53.8 870.0 52.5 C877.2 51.2 886.1 48.0 891.0 47.5 C895.9 47.0 897.8 47.4 899.5 49.5 C901.2 51.6 899.8 56.9 901.5 60.0 C903.2 63.1 906.1 65.5 910.0 68.0 C913.9 70.5 920.7 72.7 925.0 75.0 C929.3 77.3 932.3 79.8 936.0 82.0 C939.7 84.2 943.0 85.9 947.0 88.0 C951.0 90.1 954.7 92.7 960.0 94.4 C965.3 96.1 972.2 96.8 979.0 98.0 C985.8 99.2 993.8 100.5 1001.0 101.5 C1008.2 102.5 1014.8 102.8 1022.0 104.0 C1029.2 105.2 1037.5 108.2 1044.0 109.0 C1050.5 109.8 1056.0 107.3 1061.0 109.0 C1066.0 110.7 1069.4 116.5 1074.0 119.0 C1078.6 121.5 1086.1 123.2 1088.5 124.0 L1090.5 124.0 L1090.5 236.0 L1088.5 236.0 C1085.8 236.4 1076.6 236.8 1072.0 238.2 C1067.4 239.6 1065.0 242.4 1061.0 244.7 C1057.0 247.0 1052.7 250.2 1048.0 252.2 C1043.3 254.2 1039.1 255.1 1033.0 256.5 C1026.9 257.9 1019.8 259.6 1011.6 260.8 C1003.4 262.1 991.9 262.7 983.6 264.0 C975.3 265.3 968.5 266.9 962.0 268.4 C955.5 269.8 948.5 270.9 944.8 272.7 C941.1 274.5 943.1 276.9 940.0 279.0 C936.9 281.1 929.6 282.8 926.2 285.0 C922.9 287.2 920.8 289.2 920.0 292.5 C919.2 295.8 921.7 301.5 921.2 305.0 C920.8 308.5 919.8 311.7 917.5 313.8 C915.2 315.8 911.2 316.2 907.5 317.5 C903.8 318.8 897.5 319.5 895.0 321.2 C892.5 323.0 892.9 327.0 892.5 328.2 L892.5 330.2 L638.0 330.2 Z" fill="#0050FF"/>
<path d="M638.0 34.3 L839.0 34.3 L839.0 36.3 C838.5 37.9 837.8 43.3 836.0 46.0 C834.2 48.7 829.2 50.6 828.5 52.5 C827.8 54.4 830.3 56.2 832.0 57.5 C833.7 58.8 835.5 59.6 838.5 60.0 C841.5 60.4 846.4 60.2 850.0 60.0 C853.6 59.8 856.7 59.8 860.0 59.0 C863.3 58.2 865.8 56.8 870.0 55.5 C874.2 54.2 881.2 52.5 885.0 51.5 C888.8 50.5 890.2 49.3 892.5 49.5 C894.8 49.7 897.9 50.3 898.8 52.5 C899.6 54.7 897.1 59.4 897.5 62.5 C897.9 65.6 898.9 68.8 901.0 71.0 C903.1 73.2 908.1 73.9 910.0 76.0 C911.9 78.1 910.4 81.0 912.5 83.8 C914.6 86.5 919.6 90.2 922.5 92.5 C925.4 94.8 925.8 96.2 930.0 97.5 C934.2 98.8 942.5 99.0 947.5 100.0 C952.5 101.0 955.8 102.9 960.0 103.8 C964.2 104.6 965.7 104.1 972.5 105.0 C979.3 105.9 992.7 108.3 1001.0 109.4 C1009.3 110.5 1015.2 110.7 1022.4 111.6 C1029.6 112.5 1037.6 114.3 1044.0 114.8 C1050.4 115.3 1056.0 113.2 1061.0 114.8 C1066.0 116.4 1069.4 122.2 1074.0 124.5 C1078.6 126.8 1086.1 128.1 1088.5 128.8 L1090.5 128.8 L1090.5 232.8 L1088.5 232.8 C1085.8 233.2 1076.6 233.6 1072.0 235.0 C1067.4 236.4 1065.0 239.2 1061.0 241.4 C1057.0 243.6 1052.7 246.1 1048.0 247.9 C1043.3 249.7 1039.1 251.1 1033.0 252.2 C1026.9 253.3 1019.8 253.7 1011.6 254.4 C1003.4 255.1 991.9 255.6 983.6 256.5 C975.3 257.4 969.2 258.4 962.0 259.7 C954.8 260.9 946.7 262.3 940.5 264.0 C934.3 265.7 929.0 267.8 925.0 270.0 C921.0 272.2 918.5 275.2 916.2 277.5 C914.0 279.8 913.8 281.2 911.2 283.8 C908.8 286.2 903.8 289.4 901.2 292.5 C898.8 295.6 897.8 299.2 896.2 302.5 C894.7 305.8 893.9 310.2 892.0 312.0 C890.1 313.8 887.7 313.2 885.0 313.0 C882.3 312.8 879.3 311.8 876.0 311.0 C872.7 310.2 869.1 308.4 865.0 308.0 C860.9 307.6 856.7 308.8 851.2 308.8 C845.8 308.7 837.3 307.3 832.5 307.5 C827.7 307.7 822.5 308.3 822.5 310.0 C822.5 311.7 828.8 315.2 832.5 317.5 C836.2 319.8 841.9 322.0 845.0 323.8 C848.1 325.5 850.2 327.5 851.2 328.2 L851.2 330.2 L638.0 330.2 Z" fill="#00A5FF"/>
<path d="M638.0 34.3 L836.0 34.3 L836.0 36.3 C835.2 37.3 834.9 40.2 831.0 42.5 C827.1 44.8 816.8 47.5 812.5 50.0 C808.2 52.5 805.0 55.7 805.0 57.5 C805.0 59.3 808.5 60.6 812.5 61.0 C816.5 61.4 825.2 59.5 829.0 60.0 C832.8 60.5 833.0 62.2 835.0 64.0 C837.0 65.8 839.5 68.3 841.0 71.0 C842.5 73.7 841.2 78.5 843.8 80.0 C846.2 81.5 853.3 80.0 856.0 80.0 C858.7 80.0 857.2 80.7 860.0 80.0 C862.8 79.3 868.3 77.2 872.5 76.0 C876.7 74.8 881.9 73.2 885.0 72.5 C888.1 71.8 889.8 71.8 891.0 72.0 C892.2 72.2 893.0 72.2 892.0 73.5 C891.0 74.8 887.0 78.1 885.0 80.0 C883.0 81.9 881.0 83.5 880.0 85.0 C879.0 86.5 877.9 87.9 878.8 88.8 C879.6 89.6 882.7 90.5 885.0 90.0 C887.3 89.5 890.4 85.8 892.5 86.0 C894.6 86.2 894.6 89.5 897.5 91.0 C900.4 92.5 906.2 93.5 910.0 95.0 C913.8 96.5 916.7 98.3 920.0 100.0 C923.3 101.7 925.4 103.8 930.0 105.0 C934.6 106.2 942.5 106.5 947.5 107.5 C952.5 108.5 955.8 110.2 960.0 111.0 C964.2 111.8 965.7 111.3 972.5 112.5 C979.3 113.7 992.7 117.1 1001.0 118.0 C1009.3 118.9 1015.2 117.6 1022.4 118.0 C1029.6 118.4 1037.6 120.0 1044.0 120.2 C1050.4 120.4 1056.0 117.6 1061.0 119.0 C1066.0 120.4 1069.4 126.5 1074.0 128.8 C1078.6 131.1 1086.1 132.3 1088.5 133.0 L1090.5 133.0 L1090.5 228.5 L1088.5 228.5 C1085.8 229.0 1076.6 230.3 1072.0 231.7 C1067.4 233.1 1065.0 235.2 1061.0 237.0 C1057.0 238.8 1052.7 241.1 1048.0 242.5 C1043.3 243.9 1039.1 244.8 1033.0 245.7 C1026.9 246.6 1019.8 247.3 1011.6 247.9 C1003.4 248.5 991.9 248.3 983.6 249.0 C975.3 249.7 969.2 251.1 962.0 252.2 C954.8 253.3 945.4 254.4 940.5 255.4 C935.6 256.4 935.9 257.0 932.5 258.0 C929.1 259.0 923.5 259.5 920.0 261.2 C916.5 263.0 914.8 266.5 911.2 268.8 C907.7 271.0 901.5 272.9 898.8 275.0 C896.0 277.1 896.9 280.8 895.0 281.2 C893.1 281.7 890.0 278.4 887.5 277.5 C885.0 276.6 881.5 275.4 880.0 275.6 C878.5 275.8 877.9 277.2 878.8 278.8 C879.6 280.3 884.4 283.3 885.0 285.0 C885.6 286.7 885.0 288.2 882.5 288.8 C880.0 289.2 874.2 287.8 870.0 288.0 C865.8 288.2 860.0 288.7 857.5 290.0 C855.0 291.3 858.1 294.3 855.0 296.0 C851.9 297.7 844.6 298.7 838.8 300.0 C832.9 301.3 825.6 302.6 820.0 303.8 C814.4 304.9 806.0 305.3 805.0 307.0 C804.0 308.7 810.2 311.4 813.8 313.8 C817.3 316.1 822.1 318.8 826.2 321.2 C830.4 323.7 836.7 327.0 838.8 328.2 L838.8 330.2 L638.0 330.2 Z" fill="#00FFFF"/>
<path d="M638.0 34.3 L818.8 34.3 L818.8 36.3 C817.7 37.8 815.6 41.9 812.5 45.0 C809.4 48.1 803.6 52.1 800.0 55.0 C796.4 57.9 791.8 60.4 791.0 62.5 C790.2 64.6 791.4 66.1 795.0 67.5 C798.6 68.9 807.5 69.3 812.5 71.0 C817.5 72.7 822.8 74.5 825.0 77.5 C827.2 80.5 824.3 86.1 826.0 89.0 C827.7 91.9 832.0 93.2 835.0 95.0 C838.0 96.8 840.2 98.8 843.8 100.0 C847.2 101.2 851.6 101.6 856.0 102.5 C860.4 103.4 863.8 104.1 870.0 105.5 C876.2 106.9 885.5 109.2 893.0 111.0 C900.5 112.8 907.5 114.5 914.7 116.0 C921.9 117.5 926.7 119.1 936.0 120.2 C945.3 121.3 959.9 121.7 970.7 122.4 C981.5 123.1 992.4 124.3 1001.0 124.5 C1009.6 124.7 1015.2 123.0 1022.4 123.4 C1029.6 123.8 1037.6 126.3 1044.0 126.7 C1050.4 127.1 1056.0 124.3 1061.0 125.6 C1066.0 126.8 1069.4 132.0 1074.0 134.2 C1078.6 136.3 1086.1 137.8 1088.5 138.5 L1090.5 138.5 L1090.5 223.0 L1088.5 223.0 C1085.8 223.6 1076.6 224.7 1072.0 226.3 C1067.4 227.9 1065.0 230.8 1061.0 232.8 C1057.0 234.8 1052.7 236.8 1048.0 238.2 C1043.3 239.6 1039.1 240.7 1033.0 241.4 C1026.9 242.1 1019.8 242.3 1011.6 242.5 C1003.4 242.7 991.9 242.5 983.6 242.5 C975.3 242.5 970.6 242.1 962.0 242.5 C953.4 242.9 939.9 243.8 932.0 244.7 C924.1 245.6 920.8 246.7 914.7 247.9 C908.6 249.2 900.7 251.8 895.3 252.2 C889.9 252.5 887.3 249.6 882.3 250.0 C877.2 250.4 869.0 253.8 865.0 254.4 C861.0 255.0 861.3 253.9 858.4 253.3 C855.5 252.7 851.7 250.8 847.7 251.0 C843.8 251.2 838.7 252.6 834.7 254.4 C830.8 256.2 826.9 258.5 824.0 261.9 C821.1 265.3 819.7 270.5 817.5 274.8 C815.3 279.1 813.9 283.9 811.0 287.8 C808.1 291.8 803.9 296.4 800.3 298.5 C796.7 300.6 791.9 299.4 789.5 300.7 C787.1 301.9 784.8 303.4 786.0 306.0 C787.2 308.6 793.0 312.3 797.0 316.0 C801.0 319.7 807.8 326.2 810.0 328.2 L810.0 330.2 L638.0 330.2 Z" fill="#5AFFA5"/>
<path d="M638.0 34.3 L800.0 34.3 L800.0 36.3 C799.2 37.9 798.2 42.9 795.0 46.0 C791.8 49.1 785.6 52.7 781.0 55.0 C776.4 57.3 769.5 58.3 767.5 60.0 C765.5 61.7 767.1 63.3 768.8 65.0 C770.4 66.7 774.4 68.2 777.5 70.0 C780.6 71.8 784.6 75.0 787.5 76.0 C790.4 77.0 792.1 76.3 795.0 76.0 C797.9 75.7 802.1 73.3 805.0 74.0 C807.9 74.7 811.0 76.9 812.5 80.0 C814.0 83.1 812.9 89.2 813.8 92.5 C814.6 95.8 815.6 97.9 817.5 100.0 C819.4 102.1 822.1 104.0 825.0 105.0 C827.9 106.0 831.7 105.2 835.0 106.0 C838.3 106.8 841.7 108.5 845.0 110.0 C848.3 111.5 850.6 113.7 855.0 115.0 C859.4 116.3 865.3 117.1 871.6 118.0 C877.9 118.9 885.8 119.3 893.0 120.2 C900.2 121.1 907.5 122.3 914.7 123.4 C921.9 124.5 926.7 125.8 936.0 126.7 C945.3 127.6 959.9 128.1 970.7 128.8 C981.5 129.5 992.4 130.8 1001.0 131.0 C1009.6 131.2 1015.2 129.7 1022.4 130.0 C1029.6 130.3 1037.6 132.7 1044.0 133.0 C1050.4 133.3 1056.0 130.7 1061.0 132.0 C1066.0 133.3 1069.4 138.7 1074.0 140.7 C1078.6 142.7 1086.1 143.4 1088.5 144.0 L1090.5 144.0 L1090.5 216.6 L1088.5 216.6 C1085.8 217.2 1076.6 218.1 1072.0 219.9 C1067.4 221.7 1065.0 225.2 1061.0 227.4 C1057.0 229.6 1052.7 231.5 1048.0 232.8 C1043.3 234.1 1039.1 234.5 1033.0 235.0 C1026.9 235.5 1019.8 235.8 1011.6 236.0 C1003.4 236.2 991.9 236.2 983.6 236.0 C975.3 235.8 970.6 235.0 962.0 235.0 C953.4 235.0 939.9 235.3 932.0 236.0 C924.1 236.7 920.8 237.9 914.7 239.3 C908.6 240.8 900.7 244.2 895.3 244.7 C889.9 245.2 887.3 242.2 882.3 242.5 C877.2 242.8 869.0 246.4 865.0 246.8 C861.0 247.2 861.6 245.6 858.4 244.7 C855.1 243.8 849.8 241.4 845.5 241.4 C841.2 241.4 836.9 243.1 832.6 244.7 C828.3 246.3 822.9 248.1 819.7 251.0 C816.5 253.9 816.4 258.6 813.2 261.9 C810.0 265.1 803.2 266.6 800.3 270.5 C797.4 274.4 798.5 282.0 796.0 285.6 C793.5 289.2 789.2 290.6 785.2 292.0 C781.2 293.4 775.4 292.8 772.2 294.2 C769.0 295.6 766.2 298.2 765.8 300.7 C765.4 303.2 767.5 304.7 770.0 309.3 C772.5 313.9 779.1 325.1 780.9 328.2 L780.9 330.2 L638.0 330.2 Z" fill="#A5FF5A"/>
<path d="M638.0 34.3 L753.8 34.3 L753.8 36.3 C753.6 38.4 754.7 43.8 753.0 48.8 C751.3 53.7 745.3 61.8 743.8 66.0 C742.2 70.2 742.7 71.2 743.8 73.8 C744.8 76.2 746.9 79.5 750.0 81.0 C753.1 82.5 758.3 81.8 762.5 82.5 C766.7 83.2 769.6 83.6 775.0 85.0 C780.4 86.4 791.0 88.5 795.0 91.0 C799.0 93.5 797.9 97.7 798.8 100.0 C799.6 102.3 797.7 102.9 800.0 105.0 C802.3 107.1 808.3 110.0 812.5 112.5 C816.7 115.0 820.0 118.3 825.0 120.0 C830.0 121.7 837.5 121.7 842.5 122.5 C847.5 123.3 851.2 124.3 855.0 125.0 C858.8 125.7 860.8 126.1 865.0 126.7 C869.2 127.3 875.0 128.6 880.0 128.8 C885.0 129.0 889.2 127.3 895.0 127.8 C900.8 128.3 907.9 131.0 914.7 132.0 C921.5 133.0 926.7 133.3 936.0 134.0 C945.3 134.7 959.9 135.8 970.7 136.4 C981.5 137.0 992.4 137.5 1001.0 137.5 C1009.6 137.5 1015.2 136.1 1022.4 136.4 C1029.6 136.8 1037.6 139.1 1044.0 139.6 C1050.4 140.1 1056.0 138.4 1061.0 139.6 C1066.0 140.8 1069.4 145.4 1074.0 147.0 C1078.6 148.6 1086.1 148.9 1088.5 149.3 L1090.5 149.3 L1090.5 210.2 L1088.5 210.2 C1085.8 210.5 1076.6 210.3 1072.0 212.3 C1067.4 214.3 1065.0 219.5 1061.0 222.0 C1057.0 224.5 1052.7 226.1 1048.0 227.4 C1043.3 228.7 1039.1 229.2 1033.0 229.6 C1026.9 230.0 1019.8 229.6 1011.6 229.6 C1003.4 229.6 991.9 229.8 983.6 229.6 C975.3 229.4 970.6 228.7 962.0 228.5 C953.4 228.3 939.9 228.0 932.0 228.5 C924.1 229.0 920.8 230.3 914.7 231.7 C908.6 233.1 900.7 236.8 895.3 237.0 C889.9 237.2 887.3 232.6 882.3 232.8 C877.2 233.0 869.3 237.5 865.0 238.2 C860.7 238.9 860.3 237.5 856.3 237.0 C852.3 236.5 845.9 235.0 841.2 235.0 C836.5 235.0 832.6 235.4 828.3 237.0 C824.0 238.6 819.6 242.7 815.3 244.7 C811.0 246.7 806.0 246.5 802.4 249.0 C798.8 251.5 797.4 256.8 793.8 259.7 C790.2 262.6 785.2 263.0 780.9 266.2 C776.6 269.4 771.6 275.9 768.0 279.0 C764.4 282.1 762.2 284.1 759.3 284.5 C756.4 284.9 753.8 281.5 750.7 281.3 C747.7 281.1 742.6 281.6 741.0 283.4 C739.4 285.2 739.9 287.7 741.0 292.0 C742.1 296.3 745.3 303.3 747.5 309.3 C749.7 315.3 752.9 325.1 754.0 328.2 L754.0 330.2 L638.0 330.2 Z" fill="#FFFF00"/>
<path d="M638.0 34.3 L715.0 34.3 L715.0 36.3 C714.2 40.2 711.0 52.7 710.0 60.0 C709.0 67.3 708.1 74.3 708.8 80.0 C709.4 85.7 712.1 90.8 713.8 94.0 C715.4 97.2 716.0 98.7 718.8 99.0 C721.5 99.3 725.6 96.3 730.0 96.0 C734.4 95.7 740.2 96.7 745.0 97.0 C749.8 97.3 755.2 96.2 758.8 98.0 C762.2 99.8 762.9 104.2 766.0 107.5 C769.1 110.8 773.1 114.6 777.5 117.5 C781.9 120.4 787.1 122.8 792.5 125.0 C797.9 127.2 803.8 128.5 810.0 131.0 C816.2 133.5 824.6 138.1 830.0 140.0 C835.4 141.9 838.3 142.5 842.5 142.5 C846.7 142.5 851.2 141.0 855.0 140.0 C858.8 139.0 860.8 136.3 865.0 136.4 C869.2 136.5 875.0 140.5 880.0 140.7 C885.0 140.9 889.2 137.2 895.0 137.5 C900.8 137.8 907.9 141.4 914.7 142.8 C921.5 144.2 926.7 145.6 936.0 146.0 C945.3 146.4 959.9 145.0 970.7 145.0 C981.5 145.0 992.4 146.2 1001.0 146.0 C1009.6 145.8 1015.2 143.8 1022.4 144.0 C1029.6 144.2 1037.6 146.5 1044.0 147.0 C1050.4 147.5 1056.0 145.9 1061.0 147.0 C1066.0 148.1 1069.4 152.1 1074.0 153.6 C1078.6 155.1 1086.1 155.4 1088.5 155.8 L1090.5 155.8 L1090.5 203.7 L1088.5 203.7 C1085.8 203.7 1076.6 201.9 1072.0 203.7 C1067.4 205.5 1065.0 211.8 1061.0 214.5 C1057.0 217.2 1052.7 218.8 1048.0 219.9 C1043.3 221.0 1039.1 220.8 1033.0 221.0 C1026.9 221.2 1019.8 221.2 1011.6 221.0 C1003.4 220.8 991.9 220.3 983.6 219.9 C975.3 219.5 970.6 219.0 962.0 218.8 C953.4 218.6 939.9 218.3 932.0 218.8 C924.1 219.3 920.8 220.4 914.7 222.0 C908.6 223.6 900.7 228.1 895.3 228.5 C889.9 228.9 887.3 224.0 882.3 224.2 C877.2 224.4 869.3 228.9 865.0 229.6 C860.7 230.3 860.3 229.1 856.3 228.5 C852.3 227.9 845.9 226.5 841.2 226.3 C836.5 226.1 832.6 226.1 828.3 227.4 C824.0 228.7 820.3 232.3 815.3 233.9 C810.2 235.5 803.0 235.2 798.0 237.0 C793.0 238.8 789.5 242.0 785.2 244.7 C780.9 247.4 775.4 250.2 772.2 253.3 C769.0 256.4 768.5 260.1 765.8 263.0 C763.1 265.9 759.2 270.0 756.0 270.5 C752.8 271.0 750.2 266.7 746.4 266.2 C742.6 265.7 737.3 265.9 733.4 267.3 C729.5 268.7 725.6 274.5 722.7 274.8 C719.8 275.1 718.9 271.0 716.2 269.4 C713.5 267.8 708.8 264.4 706.5 265.0 C704.2 265.6 702.7 268.9 702.2 272.7 C701.7 276.5 702.4 281.7 703.3 287.8 C704.2 293.9 706.0 302.6 707.6 309.3 C709.2 316.0 712.1 325.1 713.0 328.2 L713.0 330.2 L638.0 330.2 Z" fill="#FFA500"/>
<path d="M638.0 34.3 L669.5 34.3 L669.5 36.3 C669.5 40.2 669.5 49.4 669.5 60.0 C669.5 70.6 668.8 90.4 669.5 100.0 C670.2 109.6 672.0 113.5 673.8 117.5 C675.5 121.5 677.6 123.6 680.0 124.0 C682.4 124.4 685.1 121.5 688.0 120.0 C690.9 118.5 694.5 115.0 697.5 115.0 C700.5 115.0 703.1 118.3 706.0 120.0 C708.9 121.7 712.5 125.0 715.0 125.0 C717.5 125.0 718.9 121.3 721.0 120.0 C723.1 118.7 724.3 117.3 727.5 117.0 C730.7 116.7 735.8 117.6 740.0 118.0 C744.2 118.4 750.1 117.8 752.5 119.5 C754.9 121.2 753.9 125.2 754.5 128.0 C755.1 130.8 753.4 133.8 756.0 136.0 C758.6 138.2 763.9 139.5 770.0 141.0 C776.1 142.5 785.8 143.5 792.5 145.0 C799.2 146.5 803.8 148.3 810.0 150.0 C816.2 151.7 825.0 154.0 830.0 155.0 C835.0 156.0 835.8 156.2 840.0 156.0 C844.2 155.8 850.8 155.1 855.0 154.0 C859.2 152.9 860.8 149.4 865.0 149.3 C869.2 149.2 875.0 153.8 880.0 153.6 C885.0 153.4 890.0 148.2 895.0 148.0 C900.0 147.8 904.5 150.8 910.3 152.5 C916.1 154.2 923.6 157.2 929.7 158.0 C935.8 158.8 940.2 157.2 947.0 157.0 C953.8 156.8 961.7 157.2 970.7 157.0 C979.7 156.8 992.4 156.2 1001.0 155.8 C1009.6 155.4 1017.1 154.7 1022.4 154.7 C1027.7 154.7 1028.7 156.1 1033.0 155.8 C1037.3 155.6 1043.3 153.5 1048.0 153.2 C1052.7 152.9 1056.7 152.7 1061.0 154.0 C1065.3 155.3 1070.4 160.0 1074.0 161.0 C1077.6 162.0 1080.4 159.4 1082.8 160.0 C1085.2 160.6 1087.5 163.7 1088.5 164.4 L1090.5 164.4 L1090.5 197.2 L1088.5 197.2 C1086.1 197.0 1077.5 195.5 1074.0 196.2 C1070.5 196.9 1070.5 199.5 1067.7 201.6 C1064.9 203.7 1061.0 207.0 1057.0 209.0 C1053.0 211.0 1049.0 213.0 1044.0 213.4 C1039.0 213.8 1032.1 211.4 1026.7 211.2 C1021.3 211.1 1018.8 212.7 1011.6 212.3 C1004.4 211.9 991.9 209.9 983.6 209.0 C975.3 208.1 968.1 207.0 962.0 207.0 C955.9 207.0 952.4 208.8 947.0 209.0 C941.6 209.2 935.8 207.4 929.7 208.0 C923.6 208.6 916.0 210.5 910.3 212.3 C904.6 214.1 900.0 218.8 895.3 218.8 C890.6 218.8 887.0 212.8 882.3 212.3 C877.6 211.8 871.0 215.1 867.0 215.6 C863.0 216.1 862.0 216.1 858.4 215.6 C854.8 215.1 850.2 213.0 845.5 212.3 C840.8 211.6 835.4 210.5 830.4 211.2 C825.4 212.0 820.7 215.2 815.3 216.6 C809.9 218.0 803.7 219.0 798.0 219.9 C792.3 220.8 786.3 221.3 780.9 222.0 C775.5 222.7 769.9 222.8 765.8 224.2 C761.6 225.6 758.2 227.2 756.0 230.6 C753.8 234.0 754.4 242.0 752.8 244.7 C751.2 247.4 749.6 246.8 746.4 246.8 C743.2 246.8 737.3 244.3 733.4 244.7 C729.5 245.1 725.9 248.8 722.7 249.0 C719.5 249.2 717.2 247.0 714.0 245.7 C710.8 244.4 706.9 241.6 703.3 241.4 C699.7 241.2 696.5 243.8 692.5 244.7 C688.5 245.6 683.4 245.0 679.6 246.8 C675.8 248.6 671.9 251.5 669.9 255.4 C667.9 259.4 668.1 262.9 667.7 270.5 C667.3 278.1 667.5 291.1 667.7 300.7 C667.9 310.3 668.6 323.6 668.8 328.2 L668.8 330.2 L638.0 330.2 Z" fill="#FF5600"/>
<ellipse cx="692.5" cy="71.0" rx="5.5" ry="19.0" fill="#FFFF00" transform="rotate(8.0 692.5 71.0)"/>
<ellipse cx="1033.0" cy="44.0" rx="28.0" ry="11.0" fill="#0000FF" transform="rotate(0.0 1033.0 44.0)"/>
<path d="M841.2 312.5 C842.6 311.9 847.3 312.1 851.2 311.9 C855.2 311.7 860.8 310.7 865.0 311.2 C869.2 311.8 872.5 313.8 876.2 315.0 C880.0 316.2 885.4 317.8 887.5 318.8 C889.6 319.8 889.0 320.4 889.0 321.0 C889.0 321.6 889.6 321.9 887.5 322.5 C885.4 323.1 880.0 324.4 876.2 324.4 C872.5 324.4 869.2 323.4 865.0 322.5 C860.8 321.6 854.9 319.9 851.2 318.8 C847.6 317.6 844.7 316.5 843.0 315.5 C841.3 314.5 839.9 313.1 841.2 312.5Z" fill="#0000FF"/>
<path d="M852.0 314.0 C853.7 313.5 861.0 313.3 865.0 314.0 C869.0 314.7 872.8 316.8 876.0 318.0 C879.2 319.2 884.0 320.3 884.0 321.0 C884.0 321.7 879.2 322.2 876.0 322.0 C872.8 321.8 868.5 320.8 865.0 320.0 C861.5 319.2 857.2 318.0 855.0 317.0 C852.8 316.0 850.3 314.5 852.0 314.0Z" fill="#0000AA"/>
<path d="M1090.5 240.3 C1087.8 231.7 1080.0 240.3 1074.0 242.5 C1068.0 244.7 1061.5 249.4 1054.7 253.3 C1047.9 257.2 1038.4 262.2 1033.0 266.2 C1027.6 270.1 1024.6 274.7 1022.4 277.0 C1020.2 279.3 1020.0 279.0 1020.0 280.0 C1020.0 281.0 1020.2 281.7 1022.4 283.0 C1024.6 284.3 1027.6 286.3 1033.0 287.8 C1038.4 289.3 1045.1 290.9 1054.7 292.0 C1064.3 293.1 1084.5 302.8 1090.5 294.2 C1096.5 285.6 1093.2 248.9 1090.5 240.3Z" fill="#0000AA"/>
<ellipse cx="985.8" cy="292.0" rx="4.5" ry="4.5" fill="#0000AA" transform="rotate(0.0 985.8 292.0)"/>
<ellipse cx="964.0" cy="298.5" rx="4.0" ry="5.0" fill="#0000AA" transform="rotate(0.0 964.0 298.5)"/>
<path d="M1020.0 316.0 C1020.7 314.2 1026.0 312.5 1030.0 311.0 C1034.0 309.5 1039.0 308.2 1044.0 307.0 C1049.0 305.8 1055.0 304.7 1060.0 304.0 C1065.0 303.3 1068.9 302.8 1074.0 302.8 C1079.1 302.8 1087.8 302.5 1090.5 304.0 C1093.2 305.5 1092.2 310.2 1090.5 312.0 C1088.8 313.8 1082.8 313.3 1080.0 315.0 C1077.2 316.7 1075.3 319.5 1074.0 322.0 C1072.7 324.5 1079.5 328.8 1072.0 330.2 C1064.5 331.6 1036.7 331.6 1029.0 330.2 C1021.3 328.8 1027.5 324.4 1026.0 322.0 C1024.5 319.6 1019.3 317.8 1020.0 316.0Z" fill="#0050FF"/>
</g></g>
<g stroke="#000" stroke-opacity="0.15" stroke-width="0.7" fill="none">
<path d="M698.7 36.3 V328.2"/>
<path d="M776.2 36.3 V328.2"/>
<path d="M834.9 36.3 V328.2"/>
<path d="M893.6 36.3 V328.2"/>
<path d="M971.2 36.3 V328.2"/>
<path d="M1010.9 36.3 V328.2"/>
<path d="M1029.8 36.3 V328.2"/>
<path d="M1064.1 36.3 V328.2"/>
<path d="M640.0 60.6 H1088.5"/>
<path d="M640.0 84.9 H1088.5"/>
<path d="M640.0 109.3 H1088.5"/>
<path d="M640.0 133.6 H1088.5"/>
<path d="M640.0 157.9 H1088.5"/>
<path d="M640.0 182.2 H1088.5"/>
<path d="M640.0 206.6 H1088.5"/>
<path d="M640.0 230.9 H1088.5"/>
<path d="M640.0 255.2 H1088.5"/>
<path d="M640.0 279.6 H1088.5"/>
<path d="M640.0 303.9 H1088.5"/>
</g>
<text x="637.0" y="39.7" font-size="9.4" text-anchor="end">180</text>
<text x="637.0" y="64.0" font-size="9.4" text-anchor="end">150</text>
<text x="637.0" y="88.3" font-size="9.4" text-anchor="end">120</text>
<text x="637.0" y="112.7" font-size="9.4" text-anchor="end">90</text>
<text x="637.0" y="137.0" font-size="9.4" text-anchor="end">60</text>
<text x="637.0" y="161.3" font-size="9.4" text-anchor="end">30</text>
<text x="637.0" y="185.7" font-size="9.4" text-anchor="end">0</text>
<text x="637.0" y="210.0" font-size="9.4" text-anchor="end">-30</text>
<text x="637.0" y="234.3" font-size="9.4" text-anchor="end">-60</text>
<text x="637.0" y="258.6" font-size="9.4" text-anchor="end">-90</text>
<text x="637.0" y="282.9" font-size="9.4" text-anchor="end">-120</text>
<text x="637.0" y="307.3" font-size="9.4" text-anchor="end">-150</text>
<text x="637.0" y="331.6" font-size="9.4" text-anchor="end">-180</text>
<text x="640.0" y="339.9" font-size="9.4" text-anchor="middle">0.1</text>
<text x="698.7" y="339.9" font-size="9.4" text-anchor="middle">0.2</text>
<text x="776.2" y="339.9" font-size="9.4" text-anchor="middle">0.5</text>
<text x="834.9" y="339.9" font-size="9.4" text-anchor="middle">1</text>
<text x="893.6" y="339.9" font-size="9.4" text-anchor="middle">2</text>
<text x="971.2" y="339.9" font-size="9.4" text-anchor="middle">5</text>
<text x="1010.9" y="339.9" font-size="9.4" text-anchor="middle">8</text>
<text x="1029.8" y="339.9" font-size="9.4" text-anchor="middle">10</text>
<text x="1064.1" y="339.9" font-size="9.4" text-anchor="middle">15</text>
<text x="1088.5" y="339.9" font-size="9.4" text-anchor="middle">20</text>
<text x="761.0" y="25.8" font-size="9.4" text-anchor="start" xml:space="preserve" textLength="156.5" lengthAdjust="spacingAndGlyphs">Horizontal isobars: Genelec  S360A</text>
<text font-size="10" text-anchor="middle" transform="translate(606.2 183.2) rotate(-90)">Angle<tspan font-size="7.2" dy="2.8">rel 0°</tspan><tspan dy="-2.8"> [°]</tspan></text>
<rect x="1104.0" y="36.30" width="20.0" height="26.84" fill="#FF5600"/>
<rect x="1104.0" y="62.84" width="20.0" height="26.84" fill="#FF5600"/>
<rect x="1104.0" y="89.37" width="20.0" height="26.84" fill="#FFA500"/>
<rect x="1104.0" y="115.91" width="20.0" height="26.84" fill="#FFFF00"/>
<rect x="1104.0" y="142.45" width="20.0" height="26.84" fill="#A5FF5A"/>
<rect x="1104.0" y="168.98" width="20.0" height="26.84" fill="#5AFFA5"/>
<rect x="1104.0" y="195.52" width="20.0" height="26.84" fill="#00FFFF"/>
<rect x="1104.0" y="222.05" width="20.0" height="26.84" fill="#00A5FF"/>
<rect x="1104.0" y="248.59" width="20.0" height="26.84" fill="#0050FF"/>
<rect x="1104.0" y="275.13" width="20.0" height="26.84" fill="#0000FF"/>
<rect x="1104.0" y="301.66" width="20.0" height="26.84" fill="#0000AA"/>
<rect x="1104.0" y="36.3" width="20.0" height="291.9" fill="none" stroke="#000" stroke-opacity="0.3" stroke-width="0.7"/>
<g stroke="#000" stroke-opacity="0.45" stroke-width="0.7">
<path d="M1104.0 62.8 h2 M1124.0 62.8 h-2"/>
<path d="M1104.0 89.4 h2 M1124.0 89.4 h-2"/>
<path d="M1104.0 115.9 h2 M1124.0 115.9 h-2"/>
<path d="M1104.0 142.4 h2 M1124.0 142.4 h-2"/>
<path d="M1104.0 169.0 h2 M1124.0 169.0 h-2"/>
<path d="M1104.0 195.5 h2 M1124.0 195.5 h-2"/>
<path d="M1104.0 222.1 h2 M1124.0 222.1 h-2"/>
<path d="M1104.0 248.6 h2 M1124.0 248.6 h-2"/>
<path d="M1104.0 275.1 h2 M1124.0 275.1 h-2"/>
<path d="M1104.0 301.7 h2 M1124.0 301.7 h-2"/>
</g>
<text x="1127.3" y="39.7" font-size="9.4" text-anchor="start">3</text>
<text x="1127.3" y="66.2" font-size="9.4" text-anchor="start">0</text>
<text x="1127.3" y="92.8" font-size="9.4" text-anchor="start">-3</text>
<text x="1127.3" y="119.3" font-size="9.4" text-anchor="start">-6</text>
<text x="1127.3" y="145.8" font-size="9.4" text-anchor="start">-9</text>
<text x="1127.3" y="172.4" font-size="9.4" text-anchor="start">-12</text>
<text x="1127.3" y="198.9" font-size="9.4" text-anchor="start">-15</text>
<text x="1127.3" y="225.5" font-size="9.4" text-anchor="start">-18</text>
<text x="1127.3" y="252.0" font-size="9.4" text-anchor="start">-21</text>
<text x="1127.3" y="278.5" font-size="9.4" text-anchor="start">-24</text>
<text x="1127.3" y="305.1" font-size="9.4" text-anchor="start">-27</text>
<text x="1127.3" y="331.6" font-size="9.4" text-anchor="start">-30</text>
<text font-size="10" text-anchor="middle" transform="translate(1151.5 182.2) rotate(-90)">dB<tspan font-size="7.2" dy="2.8">rel 0°</tspan></text>
<text x="628.5" y="352.3" font-size="10.5" text-anchor="start">Freq.</text>
<text x="627.5" y="364.8" font-size="10.5" text-anchor="start">[kHz]</text>
<text x="662.0" y="353.8" font-size="8.8" text-anchor="start" xml:space="preserve" textLength="279" lengthAdjust="spacingAndGlyphs">Step=5°   Norm. to 0°   Cyclic move=0°   Mirrored=FALSE   Azimuth=0°</text>
<text x="662.0" y="364.9" font-size="8.8" text-anchor="start" xml:space="preserve" textLength="195.5" lengthAdjust="spacingAndGlyphs">Proc.: Smooth: continuous log 1/3oct    Win.: OFF</text>
<circle cx="631.3" cy="268.8" r="24.8" fill="#000" fill-opacity="0.34"/>
<path d="M634.9 261.0 L627.5 268.8 L634.9 276.6" fill="none" stroke="#fff" stroke-opacity="0.82" stroke-width="4.2" stroke-linecap="round" stroke-linejoin="miter"/>
<circle cx="1124.0" cy="268.7" r="24.8" fill="#000" fill-opacity="0.34"/>
<path d="M1120.4 260.9 L1127.8 268.7 L1120.4 276.5" fill="none" stroke="#fff" stroke-opacity="0.82" stroke-width="4.2" stroke-linecap="round" stroke-linejoin="miter"/><path d="M8.5 741 V412" fill="none" stroke="#000" stroke-width="2.6"/>
<path d="M7.2 412.8 H585" fill="none" stroke="#000" stroke-width="1.7"/>
<path d="M587 412 V741" fill="none" stroke="#000" stroke-width="1.7"/>
<rect x="0" y="741" width="1160" height="1.2" fill="#d4d4d4"/>
<rect x="0" y="742.2" width="1160" height="3" fill="#fafafa"/>
<clipPath id="cpV"><rect x="60.0" y="434.4" width="448.5" height="291.9"/></clipPath>
<g clip-path="url(#cpV)"><g filter="url(#b2)">
<rect x="59.0" y="433.4" width="450.5" height="293.9" fill="#0000AA"/>
<path d="M58.0 432.4 L311.2 432.4 L311.2 434.4 C313.8 435.3 322.7 437.8 326.2 440.0 C329.8 442.2 329.4 445.6 332.5 447.5 C335.6 449.4 339.8 450.2 345.0 451.2 C350.2 452.3 358.5 453.8 363.8 453.8 C369.0 453.8 371.5 452.0 376.2 451.2 C381.0 450.5 387.5 448.7 392.0 449.0 C396.5 449.3 400.8 450.9 403.0 453.0 C405.2 455.1 404.3 458.7 405.0 461.5 C405.7 464.3 404.2 467.5 407.0 470.0 C409.8 472.5 415.9 473.6 422.0 476.5 C428.1 479.4 438.3 484.1 443.7 487.3 C449.1 490.5 451.5 492.9 454.4 495.9 C457.3 498.8 457.4 503.6 461.0 505.0 C464.6 506.4 472.1 504.1 476.0 504.5 C479.9 504.9 480.9 506.1 484.5 507.7 C488.1 509.3 493.4 511.9 497.4 514.0 C501.4 516.1 506.6 519.4 508.5 520.5 L510.5 520.5 L510.5 728.3 L58.0 728.3 Z" fill="#0000FF"/>
<path d="M58.0 432.4 L261.0 432.4 L261.0 434.4 C262.5 434.6 266.4 434.6 270.0 435.5 C273.6 436.4 277.3 439.0 282.5 440.0 C287.7 441.0 296.0 440.8 301.2 441.2 C306.5 441.7 309.6 441.7 313.8 442.5 C317.9 443.3 323.5 444.6 326.2 446.2 C329.0 447.9 326.9 451.0 330.0 452.5 C333.1 454.0 340.4 454.0 345.0 455.0 C349.6 456.0 353.8 458.5 357.5 458.8 C361.2 459.0 364.6 457.0 367.5 456.2 C370.4 455.5 374.6 452.7 375.0 454.4 C375.4 456.1 370.2 463.2 370.0 466.2 C369.8 469.3 371.7 471.2 373.8 472.5 C375.8 473.8 380.6 472.5 382.5 473.8 C384.4 475.0 383.8 478.5 385.0 480.0 C386.2 481.5 387.4 481.4 390.0 483.0 C392.6 484.6 397.1 487.2 400.7 489.4 C404.3 491.5 406.1 494.3 411.5 495.9 C416.9 497.5 426.6 497.2 433.0 499.0 C439.4 500.8 445.7 504.8 450.0 506.6 C454.3 508.4 456.2 509.8 458.7 509.8 C461.2 509.8 462.3 507.1 465.2 506.6 C468.1 506.1 472.8 506.1 476.0 506.6 C479.2 507.1 480.9 508.2 484.5 509.8 C488.1 511.4 493.4 514.1 497.4 516.3 C501.4 518.4 506.6 521.6 508.5 522.7 L510.5 522.7 L510.5 637.5 L508.5 637.5 C505.8 636.8 496.6 633.4 492.0 633.2 C487.4 633.0 485.1 635.5 481.2 636.4 C477.2 637.3 473.0 637.9 468.3 638.6 C463.6 639.3 458.2 639.6 453.2 640.7 C448.2 641.8 443.5 643.2 438.1 645.0 C432.7 646.8 426.6 649.7 420.9 651.5 C415.1 653.3 410.1 654.5 403.6 655.8 C397.1 657.0 389.2 657.6 382.0 659.0 C374.8 660.4 364.4 662.2 360.5 664.4 C356.6 666.6 357.7 668.9 358.4 672.0 C359.1 675.1 363.0 679.2 364.8 682.8 C366.6 686.4 370.5 691.0 369.1 693.5 C367.7 696.0 361.9 696.3 356.2 697.8 C350.5 699.2 341.9 700.8 334.7 702.2 C327.5 703.7 319.1 705.1 313.0 706.5 C306.9 707.9 302.7 709.8 298.0 710.8 C293.3 711.8 288.4 711.9 285.0 712.5 C281.6 713.1 280.0 713.5 277.5 714.5 C275.0 715.5 272.9 717.6 270.0 718.8 C267.1 719.9 263.3 720.6 260.0 721.2 C256.7 721.9 251.9 721.7 250.0 722.5 C248.1 723.3 249.0 725.7 248.8 726.3 L248.8 728.3 L58.0 728.3 Z" fill="#0050FF"/>
<path d="M58.0 432.4 L255.0 432.4 L255.0 434.4 C256.7 434.7 262.2 435.5 265.0 436.2 C267.8 437.0 269.1 437.3 272.0 439.0 C274.9 440.7 278.7 444.2 282.5 446.2 C286.3 448.3 290.8 450.8 295.0 451.2 C299.2 451.7 304.4 449.4 307.5 448.8 C310.6 448.1 311.7 446.5 313.8 447.5 C315.8 448.5 317.5 452.7 320.0 455.0 C322.5 457.3 326.0 459.2 328.8 461.2 C331.5 463.3 334.7 465.2 336.2 467.5 C337.8 469.8 336.5 473.3 338.0 475.0 C339.5 476.7 341.8 476.2 345.0 477.5 C348.2 478.8 354.4 480.4 357.5 482.5 C360.6 484.6 361.0 487.7 363.8 490.0 C366.5 492.3 370.6 494.4 373.8 496.2 C376.9 498.1 379.0 500.0 382.5 501.2 C386.0 502.5 390.2 503.0 395.0 503.8 C399.8 504.5 405.2 504.7 411.5 505.5 C417.8 506.3 426.6 507.6 433.0 508.8 C439.4 510.1 445.7 511.8 450.0 513.0 C454.3 514.2 455.8 516.5 458.7 516.3 C461.6 516.1 464.4 512.7 467.3 512.0 C470.2 511.3 473.1 511.5 476.0 512.0 C478.9 512.5 480.9 513.6 484.5 515.2 C488.1 516.8 493.4 519.5 497.4 521.6 C501.4 523.7 506.6 526.9 508.5 528.0 L510.5 528.0 L510.5 632.1 L508.5 632.1 C505.8 631.4 497.3 627.8 492.0 627.8 C486.7 627.8 481.6 630.9 476.9 632.1 C472.2 633.4 469.0 634.4 464.0 635.3 C459.0 636.2 451.7 636.4 446.7 637.5 C441.7 638.6 438.1 640.0 433.8 641.8 C429.5 643.6 425.9 646.5 420.9 648.3 C415.9 650.1 410.1 651.5 403.6 652.6 C397.1 653.7 389.2 653.8 382.0 654.7 C374.8 655.6 366.2 656.9 360.5 658.0 C354.8 659.1 351.9 660.0 347.6 661.2 C343.3 662.5 337.9 663.7 334.7 665.5 C331.5 667.3 328.2 669.1 328.2 672.0 C328.2 674.9 332.6 679.6 334.7 682.8 C336.8 686.0 342.4 689.8 341.0 691.4 C339.6 693.0 331.4 691.8 326.0 692.5 C320.6 693.2 314.2 695.4 308.8 695.7 C303.4 696.1 296.8 692.8 293.7 694.6 C290.6 696.4 291.9 703.7 290.0 706.2 C288.1 708.8 285.0 708.8 282.5 710.0 C280.0 711.2 277.1 713.8 275.0 713.8 C272.9 713.8 271.0 711.9 270.0 710.0 C269.0 708.1 270.0 704.2 268.8 702.5 C267.5 700.8 264.6 700.0 262.5 700.0 C260.4 700.0 257.1 700.8 256.2 702.5 C255.4 704.2 257.7 707.5 257.5 710.0 C257.3 712.5 256.2 715.6 255.0 717.5 C253.8 719.4 252.9 720.8 250.0 721.2 C247.1 721.7 242.5 720.0 237.5 720.0 C232.5 720.0 223.8 720.2 220.0 721.2 C216.2 722.3 215.8 725.5 215.0 726.3 L215.0 728.3 L58.0 728.3 Z" fill="#00A5FF"/>
<path d="M58.0 432.4 L220.0 432.4 L220.0 434.4 C223.3 434.7 234.6 435.9 240.0 436.2 C245.4 436.6 248.3 435.8 252.5 436.2 C256.7 436.7 261.9 437.8 265.0 438.8 C268.1 439.7 269.1 440.3 271.0 442.0 C272.9 443.7 275.2 446.0 276.2 448.8 C277.3 451.5 275.4 457.0 277.5 458.8 C279.6 460.5 283.8 459.7 288.8 459.4 C293.8 459.1 303.5 457.0 307.5 456.9 C311.5 456.8 311.5 457.0 312.5 458.8 C313.5 460.5 313.5 463.5 313.8 467.5 C314.0 471.5 313.1 479.4 313.8 482.5 C314.4 485.6 315.0 485.5 317.5 486.2 C320.0 487.0 325.8 485.9 328.8 486.9 C331.7 487.9 332.3 490.9 335.0 492.5 C337.7 494.1 341.2 494.6 345.0 496.2 C348.8 497.9 353.3 500.6 357.5 502.5 C361.7 504.4 365.8 506.0 370.0 507.5 C374.2 509.0 378.3 510.4 382.5 511.2 C386.7 512.1 390.2 511.8 395.0 512.5 C399.8 513.2 405.2 514.4 411.5 515.2 C417.8 516.0 426.6 516.7 433.0 517.4 C439.4 518.1 445.0 519.3 450.0 519.5 C455.0 519.7 458.7 518.8 463.0 518.4 C467.3 518.0 472.4 517.0 476.0 517.4 C479.6 517.8 480.9 519.0 484.5 520.6 C488.1 522.2 493.4 525.0 497.4 527.0 C501.4 529.0 506.6 531.5 508.5 532.4 L510.5 532.4 L510.5 626.7 L508.5 626.7 C505.8 626.0 497.6 622.2 492.0 622.4 C486.4 622.6 480.1 626.2 474.7 627.8 C469.3 629.4 465.1 631.2 459.7 632.1 C454.3 633.0 447.4 632.3 442.4 633.2 C437.4 634.1 433.1 635.7 429.5 637.5 C425.9 639.3 425.2 642.0 420.9 644.0 C416.6 646.0 410.1 648.1 403.6 649.4 C397.1 650.6 389.2 650.8 382.0 651.5 C374.8 652.2 367.3 652.6 360.5 653.7 C353.7 654.8 346.8 656.8 341.0 658.0 C335.2 659.2 330.7 660.0 326.0 661.2 C321.3 662.5 317.0 664.5 313.0 665.5 C309.0 666.5 305.0 666.5 302.0 667.5 C299.0 668.5 297.2 669.6 295.0 671.2 C292.8 672.9 290.4 675.0 288.8 677.5 C287.1 680.0 286.9 684.2 285.0 686.2 C283.1 688.3 279.8 689.8 277.5 690.0 C275.2 690.2 273.1 688.3 271.2 687.5 C269.4 686.7 267.7 684.2 266.2 685.0 C264.8 685.8 264.2 690.0 262.5 692.5 C260.8 695.0 257.5 697.5 256.2 700.0 C255.0 702.5 256.5 705.4 255.0 707.5 C253.5 709.6 250.4 711.0 247.5 712.5 C244.6 714.0 241.2 715.6 237.5 716.2 C233.8 716.9 229.2 716.6 225.0 716.2 C220.8 715.9 216.7 715.1 212.5 714.4 C208.3 713.7 204.5 712.5 200.0 711.9 C195.5 711.3 187.3 709.7 185.6 710.6 C183.9 711.5 188.0 715.3 190.0 717.5 C192.0 719.7 195.4 722.3 197.5 723.8 C199.6 725.2 201.7 725.9 202.5 726.3 L202.5 728.3 L58.0 728.3 Z" fill="#00FFFF"/>
<path d="M58.0 432.4 L200.0 432.4 L200.0 434.4 C201.7 435.1 206.7 437.2 210.0 438.8 C213.3 440.3 217.3 441.7 220.0 443.8 C222.7 445.8 224.6 448.8 226.2 451.2 C227.9 453.8 227.7 456.9 230.0 458.8 C232.3 460.6 236.2 461.9 240.0 462.5 C243.8 463.1 248.3 462.1 252.5 462.5 C256.7 462.9 262.1 463.5 265.0 465.0 C267.9 466.5 270.0 469.2 270.0 471.2 C270.0 473.3 266.2 475.4 265.0 477.5 C263.8 479.6 262.5 482.1 262.5 483.8 C262.5 485.4 262.9 486.5 265.0 487.5 C267.1 488.5 272.5 488.5 275.0 490.0 C277.5 491.5 277.2 493.9 280.0 496.2 C282.8 498.6 286.4 502.2 292.0 504.0 C297.6 505.8 308.6 505.4 313.8 507.0 C319.0 508.6 318.9 511.2 323.0 513.3 C327.1 515.4 333.4 518.0 338.6 519.5 C343.8 521.0 348.8 522.0 354.0 522.6 C359.2 523.2 363.7 523.5 369.7 523.4 C375.7 523.2 383.0 521.6 390.0 521.7 C397.0 521.8 404.3 522.9 411.5 523.8 C418.7 524.7 426.6 526.1 433.0 527.0 C439.4 527.9 445.0 529.0 450.0 529.2 C455.0 529.4 458.7 528.5 463.0 528.0 C467.3 527.5 472.4 526.0 476.0 526.0 C479.6 526.0 480.9 526.8 484.5 528.0 C488.1 529.2 493.4 531.7 497.4 533.5 C501.4 535.3 506.6 537.9 508.5 538.8 L510.5 538.8 L510.5 620.3 L508.5 620.3 C505.8 619.8 497.6 616.6 492.0 617.0 C486.4 617.4 480.1 620.8 474.7 622.4 C469.3 624.0 465.1 625.8 459.7 626.7 C454.3 627.6 448.1 627.1 442.4 627.8 C436.6 628.5 429.5 629.8 425.2 631.0 C420.9 632.2 419.5 633.8 416.6 635.3 C413.7 636.8 412.3 638.6 408.0 639.7 C403.7 640.8 397.5 640.7 390.7 641.8 C383.9 642.9 374.6 645.0 367.0 646.1 C359.4 647.2 352.6 647.6 345.4 648.3 C338.2 649.0 331.1 649.5 323.9 650.4 C316.7 651.3 307.9 652.9 302.3 653.7 C296.7 654.6 293.3 654.7 290.0 655.5 C286.7 656.3 285.0 657.2 282.5 658.8 C280.0 660.3 277.9 663.3 275.0 665.0 C272.1 666.7 267.9 667.5 265.0 668.8 C262.1 670.0 259.2 670.4 257.5 672.5 C255.8 674.6 256.2 677.9 255.0 681.2 C253.8 684.6 252.5 689.6 250.0 692.5 C247.5 695.4 243.3 696.9 240.0 698.8 C236.7 700.6 233.3 702.5 230.0 703.8 C226.7 705.0 223.3 706.0 220.0 706.2 C216.7 706.5 213.3 705.8 210.0 705.0 C206.7 704.2 203.8 702.3 200.0 701.2 C196.2 700.2 191.7 699.6 187.5 698.8 C183.3 697.9 179.0 696.2 175.0 696.2 C171.0 696.2 165.2 696.9 163.8 698.8 C162.3 700.6 164.8 704.6 166.2 707.5 C167.7 710.4 170.2 713.1 172.5 716.2 C174.8 719.4 178.8 724.6 180.0 726.3 L180.0 728.3 L58.0 728.3 Z" fill="#5AFFA5"/>
<path d="M58.0 432.4 L175.6 432.4 L175.6 434.4 C175.3 436.8 174.5 444.3 173.8 448.8 C173.0 453.2 171.9 457.5 171.2 461.2 C170.6 465.0 169.6 468.1 170.0 471.2 C170.4 474.4 171.9 478.9 173.8 480.0 C175.6 481.1 177.5 478.6 181.2 478.0 C185.0 477.4 191.5 476.6 196.2 476.2 C201.0 475.9 206.5 476.2 210.0 475.6 C213.5 475.0 214.6 473.4 217.5 472.5 C220.4 471.6 224.2 469.8 227.5 470.0 C230.8 470.2 235.4 472.5 237.5 473.8 C239.6 475.0 239.8 475.4 240.0 477.5 C240.2 479.6 239.0 483.3 238.8 486.2 C238.5 489.2 237.9 492.3 238.8 495.0 C239.6 497.7 241.5 500.8 243.8 502.5 C246.0 504.2 249.0 504.2 252.5 505.0 C256.0 505.8 261.0 506.4 265.0 507.5 C269.0 508.6 272.1 510.0 276.6 511.5 C281.1 513.0 285.8 514.9 292.0 516.4 C298.2 517.9 308.1 519.1 313.8 520.3 C319.5 521.5 322.1 522.4 326.2 523.4 C330.3 524.4 334.0 525.5 338.6 526.5 C343.2 527.5 348.8 529.0 354.0 529.6 C359.2 530.2 363.7 530.0 369.7 530.3 C375.7 530.6 383.0 530.9 390.0 531.3 C397.0 531.6 404.3 531.7 411.5 532.4 C418.7 533.1 426.6 534.9 433.0 535.6 C439.4 536.3 445.0 536.7 450.0 536.7 C455.0 536.7 458.7 536.1 463.0 535.6 C467.3 535.1 472.4 533.7 476.0 533.5 C479.6 533.3 480.9 533.4 484.5 534.5 C488.1 535.6 493.4 538.2 497.4 540.0 C501.4 541.8 506.6 544.4 508.5 545.3 L510.5 545.3 L510.5 614.9 L508.5 614.9 C505.8 614.5 497.6 612.4 492.0 612.7 C486.4 613.1 481.2 615.4 474.7 617.0 C468.2 618.6 460.0 621.3 453.2 622.4 C446.4 623.5 439.2 622.8 433.8 623.5 C428.4 624.2 425.2 625.6 420.9 626.7 C416.6 627.8 413.0 629.8 408.0 630.0 C403.0 630.2 395.7 628.0 390.7 627.8 C385.7 627.6 381.8 627.6 377.8 628.9 C373.9 630.1 372.4 633.5 367.0 635.3 C361.6 637.1 352.6 638.6 345.4 639.7 C338.2 640.8 331.1 641.1 323.9 641.8 C316.7 642.5 309.1 643.2 302.3 644.0 C295.5 644.8 287.6 645.5 283.0 646.5 C278.4 647.5 278.4 648.4 275.0 650.0 C271.6 651.6 266.0 654.4 262.5 656.2 C259.0 658.1 256.7 659.4 253.8 661.2 C250.8 663.1 247.3 664.8 245.0 667.5 C242.7 670.2 241.7 674.8 240.0 677.5 C238.3 680.2 237.5 682.1 235.0 683.8 C232.5 685.4 226.9 686.0 225.0 687.5 C223.1 689.0 225.0 691.0 223.8 692.5 C222.5 694.0 219.8 696.0 217.5 696.2 C215.2 696.5 212.9 694.8 210.0 693.8 C207.1 692.7 203.8 691.0 200.0 690.0 C196.2 689.0 191.7 688.2 187.5 688.0 C183.3 687.8 179.2 688.5 175.0 688.8 C170.8 689.0 165.8 688.8 162.5 689.4 C159.2 690.0 156.0 690.3 155.0 692.5 C154.0 694.7 155.2 699.2 156.2 702.5 C157.3 705.8 159.6 709.6 161.2 712.5 C162.9 715.4 164.8 717.7 166.2 720.0 C167.7 722.3 169.4 725.2 170.0 726.3 L170.0 728.3 L58.0 728.3 Z" fill="#A5FF5A"/>
<path d="M58.0 432.4 L165.0 432.4 L165.0 434.4 C165.0 436.8 166.7 444.7 165.0 448.8 C163.3 452.8 158.5 455.6 155.0 458.8 C151.5 461.9 146.2 464.0 143.8 467.5 C141.2 471.0 140.5 476.2 140.0 480.0 C139.5 483.8 139.5 487.5 140.5 490.0 C141.5 492.5 143.2 494.6 146.2 495.0 C149.3 495.4 154.0 493.1 158.8 492.5 C163.5 491.9 168.8 491.7 175.0 491.2 C181.2 490.8 190.4 490.4 196.2 490.0 C202.1 489.6 206.0 489.8 210.0 488.8 C214.0 487.7 217.5 484.4 220.0 483.8 C222.5 483.1 224.0 483.1 225.0 485.0 C226.0 486.9 225.4 492.1 226.2 495.0 C227.1 497.9 227.7 500.4 230.0 502.5 C232.3 504.6 236.2 506.0 240.0 507.5 C243.8 509.0 248.3 510.2 252.5 511.2 C256.7 512.3 261.0 512.7 265.0 513.8 C269.0 514.8 271.6 516.0 276.6 517.5 C281.6 519.0 289.0 521.0 295.2 523.0 C301.4 525.0 308.6 528.0 313.8 529.6 C319.0 531.2 322.1 531.7 326.2 532.7 C330.3 533.7 334.0 534.8 338.6 535.8 C343.2 536.8 348.8 538.5 354.0 538.9 C359.2 539.3 363.7 537.9 369.7 538.1 C375.7 538.3 383.0 539.5 390.0 540.0 C397.0 540.5 404.3 540.3 411.5 541.0 C418.7 541.7 426.6 543.7 433.0 544.2 C439.4 544.7 445.0 544.4 450.0 544.2 C455.0 544.0 458.7 543.7 463.0 543.0 C467.3 542.3 472.4 540.3 476.0 540.0 C479.6 539.7 480.9 539.9 484.5 541.0 C488.1 542.1 493.4 544.8 497.4 546.4 C501.4 548.0 506.6 549.9 508.5 550.6 L510.5 550.6 L510.5 609.5 L508.5 609.5 C505.8 609.1 497.6 606.9 492.0 607.3 C486.4 607.6 481.2 610.0 474.7 611.6 C468.2 613.2 460.0 615.9 453.2 617.0 C446.4 618.1 440.6 617.4 433.8 618.1 C427.0 618.8 417.9 620.9 412.2 621.3 C406.4 621.7 404.3 620.3 399.3 620.3 C394.3 620.3 388.1 621.1 382.0 621.3 C375.9 621.5 367.7 620.8 362.7 621.3 C357.7 621.8 355.5 622.6 351.9 624.6 C348.3 626.6 345.3 631.6 341.0 633.2 C336.7 634.8 330.7 634.5 326.0 634.3 C321.3 634.1 317.7 631.8 313.0 632.0 C308.3 632.2 303.0 635.3 298.0 635.3 C293.0 635.3 287.0 633.1 283.0 632.0 C279.0 630.9 276.9 628.7 274.0 628.9 C271.1 629.1 268.2 631.4 265.5 633.2 C262.8 635.1 260.1 637.6 257.5 640.0 C254.9 642.4 252.9 645.2 250.0 647.5 C247.1 649.8 242.5 651.2 240.0 653.8 C237.5 656.2 236.5 660.0 235.0 662.5 C233.5 665.0 233.8 667.5 231.2 668.8 C228.8 670.0 224.2 670.2 220.0 670.0 C215.8 669.8 210.0 668.5 206.2 667.5 C202.5 666.5 200.0 664.8 197.5 663.8 C195.0 662.7 193.3 661.0 191.2 661.2 C189.2 661.5 187.7 663.1 185.0 665.0 C182.3 666.9 178.8 670.6 175.0 672.5 C171.2 674.4 166.7 675.4 162.5 676.2 C158.3 677.1 153.7 676.8 150.0 677.5 C146.3 678.2 143.9 679.7 140.5 680.6 C137.1 681.5 132.4 681.4 129.7 682.8 C127.0 684.2 125.1 686.3 124.4 689.2 C123.7 692.1 124.5 696.0 125.4 700.0 C126.3 704.0 127.9 708.6 129.7 713.0 C131.5 717.4 135.1 724.1 136.2 726.3 L136.2 728.3 L58.0 728.3 Z" fill="#FFFF00"/>
<path d="M58.0 432.4 L111.2 432.4 L111.2 434.4 C111.0 439.1 111.0 454.5 110.0 462.5 C109.0 470.5 106.2 476.2 105.0 482.5 C103.8 488.8 102.6 495.2 103.0 500.0 C103.4 504.8 105.3 510.0 107.5 511.2 C109.7 512.5 113.9 508.9 116.2 507.5 C118.6 506.1 119.5 502.6 121.8 503.0 C124.0 503.4 127.0 508.0 130.0 510.0 C133.0 512.0 135.8 515.0 140.0 515.0 C144.2 515.0 149.2 510.8 155.0 510.0 C160.8 509.2 170.0 508.8 175.0 510.0 C180.0 511.2 180.8 515.6 185.0 517.5 C189.2 519.4 193.3 520.6 200.0 521.2 C206.7 521.9 218.3 520.6 225.0 521.2 C231.7 521.9 235.0 523.5 240.0 525.0 C245.0 526.5 250.2 528.6 255.0 530.0 C259.8 531.4 265.5 532.2 268.8 533.5 C272.1 534.8 274.0 534.9 275.0 538.0 C276.0 541.1 274.7 548.1 275.0 552.0 C275.3 555.9 275.3 559.3 276.6 561.4 C277.9 563.5 279.7 565.0 282.8 564.5 C285.9 564.0 291.8 560.6 295.2 558.3 C298.6 556.0 300.9 553.4 303.0 550.5 C305.1 547.6 305.8 543.1 307.6 541.2 C309.4 539.3 310.7 538.6 313.8 538.9 C316.9 539.2 322.1 541.6 326.2 542.8 C330.3 544.0 334.0 545.0 338.6 545.9 C343.2 546.8 349.9 547.7 354.0 548.2 C358.1 548.7 359.3 549.1 363.5 549.0 C367.7 548.9 373.8 547.5 379.0 547.4 C384.2 547.3 389.1 547.8 394.5 548.2 C399.9 548.6 405.1 549.0 411.5 549.6 C417.9 550.2 426.6 551.4 433.0 551.7 C439.4 552.1 445.0 551.9 450.0 551.7 C455.0 551.5 458.7 551.3 463.0 550.6 C467.3 549.9 472.4 547.8 476.0 547.4 C479.6 547.0 480.9 547.8 484.5 548.5 C488.1 549.2 493.4 550.5 497.4 551.7 C501.4 553.0 506.6 555.3 508.5 556.0 L510.5 556.0 L510.5 603.0 L508.5 603.0 C505.8 602.8 497.6 601.5 492.0 601.9 C486.4 602.3 481.2 603.9 474.7 605.2 C468.2 606.5 460.0 608.6 453.2 609.5 C446.4 610.4 439.2 610.6 433.8 610.6 C428.4 610.6 426.6 609.7 420.9 609.5 C415.1 609.3 405.1 609.3 399.3 609.5 C393.6 609.7 390.7 609.7 386.4 610.6 C382.1 611.5 378.4 614.5 373.4 614.9 C368.4 615.2 362.6 613.1 356.2 612.7 C349.8 612.3 340.4 612.3 334.7 612.7 C328.9 613.1 324.8 613.5 321.7 614.9 C318.6 616.3 318.4 619.5 316.3 621.3 C314.2 623.1 312.9 624.7 308.8 625.6 C304.7 626.5 296.0 627.1 291.5 626.7 C287.0 626.4 283.7 624.9 281.9 623.5 C280.1 622.1 279.9 619.9 280.8 618.1 C281.7 616.3 284.7 614.3 287.2 612.7 C289.7 611.1 294.1 610.4 295.9 608.4 C297.7 606.4 298.7 603.0 298.0 600.9 C297.3 598.8 294.0 595.9 291.5 595.5 C289.0 595.1 285.3 596.7 282.8 598.7 C280.3 600.7 279.2 603.5 276.3 607.3 C273.4 611.1 268.4 617.7 265.5 621.3 C262.6 624.9 261.5 626.2 259.0 628.9 C256.5 631.6 254.0 635.4 250.4 637.5 C246.8 639.6 241.1 639.6 237.5 641.8 C233.9 643.9 231.4 649.5 228.9 650.4 C226.4 651.3 224.9 649.0 222.4 647.2 C219.9 645.4 216.7 641.5 213.8 639.7 C210.9 637.9 208.8 636.8 205.2 636.4 C201.6 636.0 196.5 636.8 192.2 637.5 C187.9 638.2 182.5 638.9 179.3 640.7 C176.1 642.5 175.3 645.2 172.8 648.3 C170.3 651.3 168.2 655.8 164.2 659.0 C160.2 662.2 153.3 665.9 149.0 667.7 C144.7 669.5 142.3 670.3 138.4 669.8 C134.5 669.2 129.0 664.6 125.4 664.4 C121.8 664.2 120.0 666.8 116.8 668.8 C113.6 670.7 108.7 672.5 106.0 676.3 C103.3 680.1 101.1 686.0 100.6 691.4 C100.1 696.8 101.3 702.8 102.8 708.6 C104.2 714.4 108.2 723.3 109.3 726.3 L109.3 728.3 L58.0 728.3 Z" fill="#FFA500"/>
<path d="M58.0 432.4 L87.5 432.4 L87.5 434.4 C87.3 441.2 86.2 462.0 86.2 475.0 C86.2 488.0 86.7 503.3 87.5 512.5 C88.3 521.7 89.2 525.6 91.2 530.0 C93.3 534.4 96.9 537.7 100.0 538.8 C103.1 539.8 106.7 537.3 110.0 536.2 C113.3 535.2 116.2 532.4 120.0 532.5 C123.8 532.6 127.5 537.2 132.5 537.0 C137.5 536.8 144.6 531.6 150.0 531.2 C155.4 530.9 160.4 533.2 165.0 535.0 C169.6 536.8 173.3 541.0 177.5 542.0 C181.7 543.0 185.0 542.2 190.0 541.2 C195.0 540.3 202.1 537.7 207.5 536.2 C212.9 534.8 218.4 532.5 222.5 532.5 C226.6 532.5 228.7 534.4 232.0 536.0 C235.3 537.6 238.3 540.2 242.4 542.0 C246.5 543.8 252.9 545.1 256.4 546.6 C259.9 548.1 261.7 549.1 263.4 551.3 C265.1 553.5 265.4 557.1 266.5 559.8 C267.6 562.5 268.1 565.8 270.3 567.6 C272.5 569.4 276.1 570.8 279.7 570.7 C283.3 570.6 287.9 568.3 292.0 566.8 C296.1 565.2 300.9 563.5 304.5 561.4 C308.1 559.3 310.7 555.7 313.8 554.4 C316.9 553.1 318.9 553.3 323.0 553.6 C327.1 553.9 333.4 555.4 338.6 556.0 C343.8 556.6 349.9 557.1 354.0 557.5 C358.1 557.9 359.3 558.4 363.5 558.3 C367.7 558.2 373.8 557.0 379.0 556.7 C384.2 556.4 389.1 556.7 394.5 556.7 C399.9 556.8 405.1 556.6 411.5 557.0 C417.9 557.4 426.6 558.8 433.0 559.2 C439.4 559.6 445.0 559.4 450.0 559.2 C455.0 559.0 458.7 558.9 463.0 558.2 C467.3 557.5 472.4 555.4 476.0 555.0 C479.6 554.6 480.9 554.9 484.5 555.6 C488.1 556.3 493.4 558.1 497.4 559.2 C501.4 560.4 506.6 562.0 508.5 562.5 L510.5 562.5 L510.5 596.5 L508.5 596.5 C505.8 596.1 497.6 594.2 492.0 594.4 C486.4 594.6 481.2 596.3 474.7 597.6 C468.2 598.9 460.4 601.5 453.2 602.0 C446.0 602.5 438.8 601.3 431.6 600.9 C424.4 600.5 416.8 599.8 410.0 599.8 C403.2 599.8 396.8 600.7 390.7 600.9 C384.6 601.1 379.1 601.1 373.4 600.9 C367.6 600.7 362.6 599.4 356.2 599.8 C349.8 600.1 340.8 602.1 334.7 603.0 C328.6 603.9 323.9 605.2 319.6 605.2 C315.3 605.2 311.7 604.6 308.8 603.0 C305.9 601.4 305.2 597.5 302.3 595.5 C299.4 593.5 294.8 591.6 291.5 591.2 C288.2 590.8 285.7 591.7 282.8 593.3 C279.9 594.9 276.9 597.8 274.0 600.9 C271.1 604.0 269.4 608.5 265.5 611.6 C261.6 614.7 255.4 616.7 250.4 619.2 C245.4 621.7 239.2 624.4 235.3 626.7 C231.4 629.0 229.8 633.9 226.7 633.2 C223.6 632.5 219.7 626.4 217.0 622.4 C214.3 618.4 212.9 612.2 210.6 609.5 C208.3 606.8 206.1 605.9 203.0 606.2 C199.9 606.6 196.1 609.6 192.2 611.6 C188.2 613.6 183.4 615.7 179.3 618.0 C175.2 620.3 170.7 622.7 167.5 625.6 C164.3 628.5 163.4 632.6 160.0 635.3 C156.6 638.0 151.3 640.0 147.0 641.8 C142.7 643.6 138.7 645.5 134.0 646.0 C129.3 646.5 123.7 644.6 119.0 645.0 C114.3 645.4 110.3 646.5 106.0 648.3 C101.7 650.1 96.4 652.9 93.0 655.8 C89.6 658.7 87.6 661.0 85.6 665.5 C83.6 670.0 81.8 676.3 81.2 682.8 C80.7 689.3 81.4 697.0 82.3 704.3 C83.2 711.5 85.9 722.6 86.6 726.3 L86.6 728.3 L58.0 728.3 Z" fill="#FF5600"/>
<ellipse cx="124.2" cy="447.5" rx="3.0" ry="11.0" fill="#FFA500" transform="rotate(0.0 124.2 447.5)"/>
<ellipse cx="216.2" cy="458.8" rx="1.8" ry="5.0" fill="#00FFFF" transform="rotate(10.0 216.2 458.8)"/>
<ellipse cx="283.5" cy="556.0" rx="4.5" ry="3.5" fill="#A5FF5A" transform="rotate(0.0 283.5 556.0)"/>
<ellipse cx="283.5" cy="556.0" rx="2.0" ry="1.5" fill="#5AFFA5" transform="rotate(0.0 283.5 556.0)"/>
<ellipse cx="286.2" cy="602.0" rx="3.2" ry="2.6" fill="#A5FF5A" transform="rotate(0.0 286.2 602.0)"/>
<ellipse cx="173.8" cy="705.6" rx="2.2" ry="4.0" fill="#00A5FF" transform="rotate(-20.0 173.8 705.6)"/>
<ellipse cx="452.3" cy="449.7" rx="5.0" ry="5.5" fill="#0000FF" transform="rotate(0.0 452.3 449.7)"/>
<path d="M258.8 728.3 C256.9 727.5 263.5 724.9 266.2 723.8 C269.0 722.6 273.1 720.5 275.0 721.2 C276.9 722.0 280.2 727.1 277.5 728.3 C274.8 729.5 260.6 729.1 258.8 728.3Z" fill="#0000AA"/>
<path d="M375.6 672.0 C376.3 669.1 377.3 667.3 382.0 665.5 C386.7 663.7 397.1 662.5 403.6 661.2 C410.1 660.0 414.4 659.8 420.9 658.0 C427.4 656.2 435.2 652.7 442.4 650.4 C449.6 648.1 457.5 645.8 464.0 644.0 C470.5 642.2 476.5 641.2 481.2 639.7 C485.9 638.2 487.1 635.3 492.0 635.3 C496.9 635.3 507.4 632.5 510.5 639.7 C513.6 646.9 514.7 672.3 510.5 678.4 C506.3 684.5 493.2 676.8 485.5 676.3 C477.8 675.8 471.2 675.2 464.0 675.2 C456.8 675.2 448.1 675.0 442.4 676.3 C436.6 677.6 433.1 681.0 429.5 682.8 C425.9 684.6 424.5 686.6 420.9 687.0 C417.3 687.4 413.0 685.0 408.0 685.0 C403.0 685.0 395.7 687.4 390.7 687.0 C385.7 686.6 380.3 685.3 377.8 682.8 C375.3 680.3 374.9 674.9 375.6 672.0Z" fill="#0000AA"/>
<path d="M373.4 728.3 C353.4 725.8 384.6 715.2 390.7 713.0 C396.8 710.8 403.5 715.0 410.0 715.0 C416.5 715.0 424.1 712.6 429.5 713.0 C434.9 713.4 435.9 716.5 442.4 717.2 C448.9 717.9 461.1 718.3 468.3 717.2 C475.5 716.1 478.5 712.9 485.5 710.8 C492.5 708.6 506.3 701.4 510.5 704.3 C514.7 707.2 533.4 724.3 510.5 728.3 C487.6 732.3 393.4 730.8 373.4 728.3Z" fill="#0000AA"/>
<path d="M428.4 697.8 C428.0 693.8 430.4 688.1 433.8 684.9 C437.2 681.7 442.1 679.8 448.9 678.4 C455.7 677.0 466.8 676.3 474.7 676.3 C482.6 676.3 491.1 676.6 496.3 678.4 C501.5 680.2 504.2 683.4 506.0 687.0 C507.8 690.6 508.6 697.1 507.0 700.0 C505.4 702.9 501.7 703.2 496.3 704.3 C490.9 705.4 479.4 705.0 474.7 706.5 C470.0 708.0 472.6 711.8 468.3 713.0 C464.0 714.2 454.3 714.7 448.9 714.0 C443.5 713.3 439.4 711.3 436.0 708.6 C432.6 705.9 428.8 701.8 428.4 697.8Z" fill="#0050FF"/>
<ellipse cx="478.0" cy="687.5" rx="8.6" ry="4.3" fill="#00A5FF" transform="rotate(-5.0 478.0 687.5)"/>
<ellipse cx="454.3" cy="697.8" rx="3.5" ry="3.5" fill="#00A5FF" transform="rotate(0.0 454.3 697.8)"/>
<path d="M278.0 728.3 C273.2 726.6 279.7 720.4 283.0 718.0 C286.3 715.6 293.0 714.8 298.0 714.0 C303.0 713.2 309.7 712.3 313.0 713.0 C316.3 713.7 318.2 715.5 318.0 718.0 C317.8 720.5 318.7 726.6 312.0 728.3 C305.3 730.0 282.8 730.0 278.0 728.3Z" fill="#0050FF"/>
</g></g>
<g stroke="#000" stroke-opacity="0.15" stroke-width="0.7" fill="none">
<path d="M118.7 434.4 V726.3"/>
<path d="M196.2 434.4 V726.3"/>
<path d="M254.9 434.4 V726.3"/>
<path d="M313.6 434.4 V726.3"/>
<path d="M391.2 434.4 V726.3"/>
<path d="M430.9 434.4 V726.3"/>
<path d="M449.8 434.4 V726.3"/>
<path d="M484.1 434.4 V726.3"/>
<path d="M60.0 458.7 H508.5"/>
<path d="M60.0 483.0 H508.5"/>
<path d="M60.0 507.4 H508.5"/>
<path d="M60.0 531.7 H508.5"/>
<path d="M60.0 556.0 H508.5"/>
<path d="M60.0 580.3 H508.5"/>
<path d="M60.0 604.7 H508.5"/>
<path d="M60.0 629.0 H508.5"/>
<path d="M60.0 653.3 H508.5"/>
<path d="M60.0 677.6 H508.5"/>
<path d="M60.0 702.0 H508.5"/>
</g>
<text x="57.0" y="437.8" font-size="9.4" text-anchor="end">180</text>
<text x="57.0" y="462.1" font-size="9.4" text-anchor="end">150</text>
<text x="57.0" y="486.4" font-size="9.4" text-anchor="end">120</text>
<text x="57.0" y="510.8" font-size="9.4" text-anchor="end">90</text>
<text x="57.0" y="535.1" font-size="9.4" text-anchor="end">60</text>
<text x="57.0" y="559.4" font-size="9.4" text-anchor="end">30</text>
<text x="57.0" y="583.7" font-size="9.4" text-anchor="end">0</text>
<text x="57.0" y="608.1" font-size="9.4" text-anchor="end">-30</text>
<text x="57.0" y="632.4" font-size="9.4" text-anchor="end">-60</text>
<text x="57.0" y="656.7" font-size="9.4" text-anchor="end">-90</text>
<text x="57.0" y="681.0" font-size="9.4" text-anchor="end">-120</text>
<text x="57.0" y="705.4" font-size="9.4" text-anchor="end">-150</text>
<text x="57.0" y="729.7" font-size="9.4" text-anchor="end">-180</text>
<text x="60.0" y="739.1" font-size="9.4" text-anchor="middle">0.1</text>
<text x="118.7" y="739.1" font-size="9.4" text-anchor="middle">0.2</text>
<text x="196.2" y="739.1" font-size="9.4" text-anchor="middle">0.5</text>
<text x="254.9" y="739.1" font-size="9.4" text-anchor="middle">1</text>
<text x="313.6" y="739.1" font-size="9.4" text-anchor="middle">2</text>
<text x="391.2" y="739.1" font-size="9.4" text-anchor="middle">5</text>
<text x="430.9" y="739.1" font-size="9.4" text-anchor="middle">8</text>
<text x="449.8" y="739.1" font-size="9.4" text-anchor="middle">10</text>
<text x="484.1" y="739.1" font-size="9.4" text-anchor="middle">15</text>
<text x="508.5" y="739.1" font-size="9.4" text-anchor="middle">20</text>
<text x="187.0" y="423.8" font-size="9.4" text-anchor="start" xml:space="preserve" textLength="144.5" lengthAdjust="spacingAndGlyphs">Vertical isobars: Genelec  S360A</text>
<text font-size="10" text-anchor="middle" transform="translate(26.2 581.3) rotate(-90)">Angle<tspan font-size="7.2" dy="2.8">rel 0°</tspan><tspan dy="-2.8"> [°]</tspan></text>
<rect x="524.2" y="434.40" width="19.4" height="26.84" fill="#FF5600"/>
<rect x="524.2" y="460.94" width="19.4" height="26.84" fill="#FF5600"/>
<rect x="524.2" y="487.47" width="19.4" height="26.84" fill="#FFA500"/>
<rect x="524.2" y="514.01" width="19.4" height="26.84" fill="#FFFF00"/>
<rect x="524.2" y="540.55" width="19.4" height="26.84" fill="#A5FF5A"/>
<rect x="524.2" y="567.08" width="19.4" height="26.84" fill="#5AFFA5"/>
<rect x="524.2" y="593.62" width="19.4" height="26.84" fill="#00FFFF"/>
<rect x="524.2" y="620.15" width="19.4" height="26.84" fill="#00A5FF"/>
<rect x="524.2" y="646.69" width="19.4" height="26.84" fill="#0050FF"/>
<rect x="524.2" y="673.23" width="19.4" height="26.84" fill="#0000FF"/>
<rect x="524.2" y="699.76" width="19.4" height="26.84" fill="#0000AA"/>
<rect x="524.2" y="434.4" width="19.4" height="291.9" fill="none" stroke="#000" stroke-opacity="0.3" stroke-width="0.7"/>
<g stroke="#000" stroke-opacity="0.45" stroke-width="0.7">
<path d="M524.2 460.9 h2 M543.6 460.9 h-2"/>
<path d="M524.2 487.5 h2 M543.6 487.5 h-2"/>
<path d="M524.2 514.0 h2 M543.6 514.0 h-2"/>
<path d="M524.2 540.5 h2 M543.6 540.5 h-2"/>
<path d="M524.2 567.1 h2 M543.6 567.1 h-2"/>
<path d="M524.2 593.6 h2 M543.6 593.6 h-2"/>
<path d="M524.2 620.2 h2 M543.6 620.2 h-2"/>
<path d="M524.2 646.7 h2 M543.6 646.7 h-2"/>
<path d="M524.2 673.2 h2 M543.6 673.2 h-2"/>
<path d="M524.2 699.8 h2 M543.6 699.8 h-2"/>
</g>
<text x="547.5" y="437.8" font-size="9.4" text-anchor="start">3</text>
<text x="547.5" y="464.3" font-size="9.4" text-anchor="start">0</text>
<text x="547.5" y="490.9" font-size="9.4" text-anchor="start">-3</text>
<text x="547.5" y="517.4" font-size="9.4" text-anchor="start">-6</text>
<text x="547.5" y="543.9" font-size="9.4" text-anchor="start">-9</text>
<text x="547.5" y="570.5" font-size="9.4" text-anchor="start">-12</text>
<text x="547.5" y="597.0" font-size="9.4" text-anchor="start">-15</text>
<text x="547.5" y="623.6" font-size="9.4" text-anchor="start">-18</text>
<text x="547.5" y="650.1" font-size="9.4" text-anchor="start">-21</text>
<text x="547.5" y="676.6" font-size="9.4" text-anchor="start">-24</text>
<text x="547.5" y="703.2" font-size="9.4" text-anchor="start">-27</text>
<text x="547.5" y="729.7" font-size="9.4" text-anchor="start">-30</text>
<text font-size="10" text-anchor="middle" transform="translate(574.5 580.3) rotate(-90)">dB<tspan font-size="7.2" dy="2.8">rel 0°</tspan></text>
<circle cx="51.0" cy="667.0" r="24.8" fill="#000" fill-opacity="0.34"/>
<path d="M54.6 659.2 L47.2 667.0 L54.6 674.8" fill="none" stroke="#fff" stroke-opacity="0.82" stroke-width="4.2" stroke-linecap="round" stroke-linejoin="miter"/>
<circle cx="544.0" cy="666.7" r="24.8" fill="#000" fill-opacity="0.34"/>
<path d="M540.4 658.9 L547.8 666.7 L540.4 674.5" fill="none" stroke="#fff" stroke-opacity="0.82" stroke-width="4.2" stroke-linecap="round" stroke-linejoin="miter"/></svg>
</body></html>
